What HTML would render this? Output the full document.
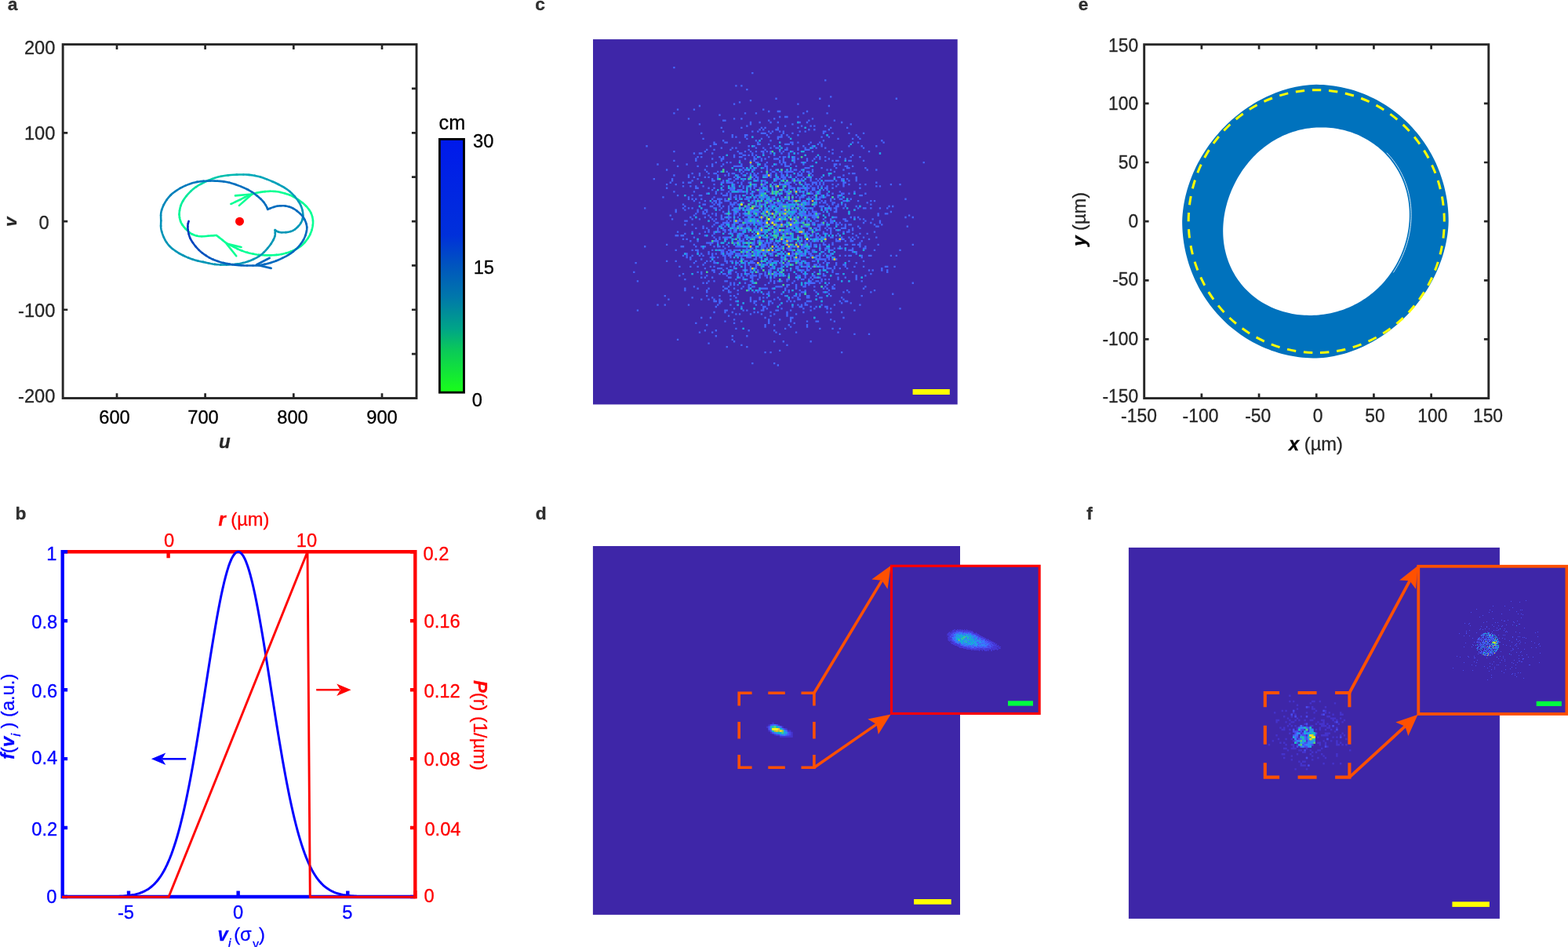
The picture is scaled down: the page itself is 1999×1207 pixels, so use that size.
<!DOCTYPE html>
<html lang="en"><head><meta charset="utf-8"><title>Figure</title>
<style>
html,body{margin:0;padding:0;background:#fff;}
body{width:1999px;height:1207px;overflow:hidden;}
svg{display:block;font-family:"Liberation Sans",Arial,Helvetica,sans-serif;font-size:23.7px;color:#262626;}
text,tspan{fill:currentColor;stroke:currentColor;stroke-width:.3px;}
</style></head><body>
<svg width="1999" height="1207" viewBox="0 0 1999 1207">
<defs>
<linearGradient id="cbar" x1="0" y1="0" x2="0" y2="1">
<stop offset="0" stop-color="#0019eb"/><stop offset="0.38" stop-color="#0030da"/><stop offset="0.5" stop-color="#0055be"/><stop offset="0.625" stop-color="#0078aa"/><stop offset="0.75" stop-color="#00a587"/><stop offset="0.83" stop-color="#0ac85a"/><stop offset="1" stop-color="#19ff19"/>
</linearGradient>
</defs>
<g id="panel-a">
<text x="9.8" y="13.1" font-weight="bold" font-size="22.8" color="#2e2e2e" stroke-width="0">a</text>
<rect x="80.15" y="56.6" width="450.85" height="450.9" fill="none" stroke="#262626" stroke-width="2.9"/>
<path d="M149 507.5v-6.3M149 56.6v6.3M261.6 507.5v-6.3M261.6 56.6v6.3M374.3 507.5v-6.3M374.3 56.6v6.3M487 507.5v-6.3M487 56.6v6.3M80.15 169.32h6.1M80.15 282.05h6.1M80.15 394.77h6.1M531 112.96h-6.1M531 169.32h-6.1M531 225.69h-6.1M531 282.05h-6.1M531 338.41h-6.1M531 394.77h-6.1M531 451.14h-6.1" stroke="#262626" stroke-width="2.7" fill="none"/>
<text x="0" y="0" text-anchor="end" transform="translate(70.4,68.8) scale(1,1.04)">200</text>
<text x="0" y="0" text-anchor="end" transform="translate(70.4,178.4) scale(1,1.04)">100</text>
<text x="0" y="0" text-anchor="end" transform="translate(62.7,291.8) scale(1,1.04)">0</text>
<text x="0" y="0" text-anchor="end" transform="translate(70.4,403.6) scale(1,1.04)">-100</text>
<text x="0" y="0" text-anchor="end" transform="translate(70.4,513) scale(1,1.04)">-200</text>
<text x="0" y="0" text-anchor="middle" color="#000" transform="translate(146,540) scale(1,1.04)">600</text>
<text x="0" y="0" text-anchor="middle" color="#000" transform="translate(259,540) scale(1,1.04)">700</text>
<text x="0" y="0" text-anchor="middle" color="#000" transform="translate(373,540) scale(1,1.04)">800</text>
<text x="0" y="0" text-anchor="middle" color="#000" transform="translate(487,540) scale(1,1.04)">900</text>
<text x="286.4" y="571" text-anchor="middle" font-weight="bold" font-style="italic" font-size="24">u</text>
<text transform="translate(21,282.6) rotate(-90)" text-anchor="middle" font-weight="bold" font-style="italic" font-size="22.6">v</text>
<rect x="560.4" y="177.4" width="31.1" height="322.8" fill="url(#cbar)" stroke="#000" stroke-width="2.8"/>
<text x="559.6" y="165" font-size="25.2" color="#000">cm</text>
<text x="0" y="0" color="#000" transform="translate(603,188.2) scale(1,1.04)">30</text>
<text x="0" y="0" color="#000" transform="translate(603.7,349.2) scale(1,1.04)">15</text>
<text x="0" y="0" color="#000" transform="translate(601.7,518.1) scale(1,1.04)">0</text>
<g fill="none" stroke-width="2.6" stroke-linecap="round" stroke-linejoin="round">
<path stroke="#0cff94" d="M294.38 260L295.85 259.31L297.95 258.33L300.38 257.19"/>
<path stroke="#0cff94" d="M300.38 257.19L302.82 256.04L305 255L306.89 254.06"/>
<path stroke="#0cff94" d="M306.89 254.06L308.69 253.15L310.43 252.25L312.11 251.41"/>
<path stroke="#0bff94" d="M312.11 251.41L313.75 250.62L315.31 249.91L316.78 249.24"/>
<path stroke="#0bff94" d="M316.78 249.24L318.22 248.63L319.69 248.05L321.25 247.5"/>
<path stroke="#0bff94" d="M321.25 247.5L322.9 246.98L324.6 246.49L326.35 246.04"/>
<path stroke="#0bff94" d="M326.35 246.04L328.15 245.62L330 245.25L331.9 244.92"/>
<path stroke="#0bff94" d="M331.9 244.92L333.85 244.62L335.85 244.36L337.9 244.15"/>
<path stroke="#0aff94" d="M337.9 244.15L340 244L342.19 243.89L344.47 243.81"/>
<path stroke="#0aff94" d="M344.47 243.81L346.78 243.8L349.06 243.85L351.25 244"/>
<path stroke="#0aff94" d="M351.25 244L353.33 244.25L355.34 244.59L357.31 245"/>
<path stroke="#0aff95" d="M357.31 245L359.27 245.48L361.25 246L363.27 246.56"/>
<path stroke="#0aff95" d="M363.27 246.56L365.31 247.17L367.34 247.84L369.33 248.57"/>
<path stroke="#0aff95" d="M369.33 248.57L371.25 249.38L373.08 250.24L374.84 251.17"/>
<path stroke="#09ff95" d="M374.84 251.17L376.56 252.16L378.27 253.23L380 254.38"/>
<path stroke="#09ff95" d="M380 254.38L381.79 255.62L383.62 256.96L385.43 258.37"/>
<path stroke="#09ff95" d="M385.43 258.37L387.16 259.81L388.75 261.25L390.21 262.71"/>
<path stroke="#09ff95" d="M390.21 262.71L391.58 264.21L392.85 265.72L393.99 267.24"/>
<path stroke="#09ff95" d="M393.99 267.24L395 268.75L395.86 270.23L396.58 271.69"/>
<path stroke="#09ff95" d="M396.58 271.69L397.19 273.16L397.69 274.67L398.12 276.25"/>
<path stroke="#08ff95" d="M398.12 276.25L398.49 277.9L398.78 279.6L398.97 281.35"/>
<path stroke="#08ff95" d="M398.97 281.35L399.05 283.15L399 285L398.8 286.94"/>
<path stroke="#08ff95" d="M398.8 286.94L398.47 288.97L398.03 291.03L397.49 293.06"/>
<path stroke="#08ff95" d="M397.49 293.06L396.88 295L396.19 296.83L395.44 298.59"/>
<path stroke="#08ff95" d="M395.44 298.59L394.58 300.31L393.61 302.02L392.5 303.75"/>
<path stroke="#07ff95" d="M392.5 303.75L391.24 305.54L389.84 307.37L388.33 309.18"/>
<path stroke="#07ff95" d="M388.33 309.18L386.71 310.91L385 312.5L383.16 313.95"/>
<path stroke="#07ff95" d="M383.16 313.95L381.18 315.3L379.12 316.55L377.04 317.7"/>
<path stroke="#07ff95" d="M377.04 317.7L375 318.75L373 319.69L371 320.51"/>
<path stroke="#07ff95" d="M371 320.51L369 321.24L367 321.89L365 322.5"/>
<path stroke="#07ff95" d="M365 322.5L363.04 323.05L361.12 323.53L359.18 323.95"/>
<path stroke="#06ff95" d="M359.18 323.95L357.16 324.31L355 324.62L352.66 324.89"/>
<path stroke="#06ff95" d="M352.66 324.89L350.18 325.09L347.62 325.24L345.04 325.33"/>
<path stroke="#06ff95" d="M345.04 325.33L342.5 325.38L340 325.36L337.5 325.3"/>
<path stroke="#06ff96" d="M337.5 325.3L335 325.18L332.5 325L330 324.75"/>
<path stroke="#06ff96" d="M330 324.75L327.48 324.43L324.94 324.04L322.41 323.59"/>
<path stroke="#06ff96" d="M322.41 323.59L319.92 323.07L317.5 322.5L315.13 321.86"/>
<path stroke="#05ff96" d="M315.13 321.86L312.79 321.14L310.51 320.37L308.32 319.56"/>
<path stroke="#05ff96" d="M308.32 319.56L306.25 318.75L304.34 317.92L302.57 317.04"/>
<path stroke="#05ff96" d="M302.57 317.04L300.88 316.15L299.21 315.26L297.5 314.38"/>
<path stroke="#05ff96" d="M297.5 314.38L295.71 313.51L293.88 312.66L292.07 311.8"/>
<path stroke="#05ff96" d="M292.07 311.8L290.34 310.91L288.75 310L287.34 309.04"/>
<path stroke="#04ff96" d="M287.34 309.04L286.08 308.04L284.9 307.03L283.73 306.01"/>
<path stroke="#04ff96" d="M283.73 306.01L282.5 305L281.11 303.92L279.61 302.76"/>
<path stroke="#04ff96" d="M279.61 302.76L278.14 301.64L276.89 300.68L276 300"/>
<path stroke="#04ff96" d="M276 300L274.91 300.06L273.4 300.15L271.6 300.26"/>
<path stroke="#03fe96" d="M271.6 300.26L269.59 300.38L267.5 300.5L265.22 300.69"/>
<path stroke="#03fe96" d="M265.22 300.69L262.67 300.95L260.01 301.19L257.4 301.32"/>
<path stroke="#03fd96" d="M257.4 301.32L255 301.25L252.8 300.98L250.7 300.56"/>
<path stroke="#02fd96" d="M250.7 300.56L248.7 300L246.8 299.31L245 298.5"/>
<path stroke="#02fc96" d="M245 298.5L243.32 297.53L241.75 296.41L240.27 295.16"/>
<path stroke="#01fc96" d="M240.27 295.16L238.86 293.85L237.5 292.5L236.15 291.1"/>
<path stroke="#01fb96" d="M236.15 291.1L234.82 289.61L233.58 288.07L232.45 286.52"/>
<path stroke="#01fb96" d="M232.45 286.52L231.5 285L230.74 283.5L230.14 282"/>
<path stroke="#00fa96" d="M230.14 282L229.67 280.5L229.3 279L229 277.5"/>
<path stroke="#00f896" d="M229 277.5L228.76 276.04L228.61 274.62L228.54 273.18"/>
<path stroke="#00f698" d="M228.54 273.18L228.59 271.66L228.75 270L229.01 268.16"/>
<path stroke="#00f298" d="M229.01 268.16L229.37 266.18L229.85 264.12L230.47 262.04"/>
<path stroke="#00f09a" d="M230.47 262.04L231.25 260L232.2 258L233.3 256"/>
<path stroke="#00ec9a" d="M233.3 256L234.55 254L235.95 252L237.5 250"/>
<path stroke="#00e89c" d="M237.5 250L239.22 247.96L241.11 245.88L243.14 243.82"/>
<path stroke="#00e2a0" d="M243.14 243.82L245.28 241.84L247.5 240L249.82 238.31"/>
<path stroke="#00dca2" d="M249.82 238.31L252.26 236.73L254.79 235.25L257.38 233.84"/>
<path stroke="#00d6a6" d="M257.38 233.84L260 232.5L262.67 231.22L265.41 230"/>
<path stroke="#00cea8" d="M265.41 230L268.19 228.85L270.98 227.81L273.75 226.88"/>
<path stroke="#00c7ac" d="M273.75 226.88L276.44 226.06L279.07 225.35L281.73 224.75"/>
<path stroke="#00bfae" d="M281.73 224.75L284.51 224.22L287.5 223.75L290.84 223.35"/>
<path stroke="#00b9b2" d="M290.84 223.35L294.47 223.04L298.18 222.79L301.76 222.62"/>
<path stroke="#00b3b4" d="M301.76 222.62L305 222.5L307.82 222.44L310.36 222.45"/>
<path stroke="#00adb8" d="M310.36 222.45L312.74 222.52L315.08 222.66L317.5 222.88"/>
<path stroke="#00a9b9" d="M317.5 222.88L320 223.15L322.5 223.49L325 223.9"/>
<path stroke="#00a7b9" d="M325 223.9L327.5 224.4L330 225L332.5 225.71"/>
<path stroke="#00a5b9" d="M332.5 225.71L335 226.53L337.5 227.43L340 228.38"/>
<path stroke="#00a3b9" d="M340 228.38L342.5 229.38L345 230.39L347.5 231.45"/>
<path stroke="#00a1b9" d="M347.5 231.45L350 232.56L352.5 233.73L355 235"/>
<path stroke="#009fb9" d="M355 235L357.54 236.34L360.12 237.75L362.68 239.23"/>
<path stroke="#009eb9" d="M362.68 239.23L365.16 240.81L367.5 242.5L369.72 244.34"/>
<path stroke="#009cb9" d="M369.72 244.34L371.86 246.32L373.89 248.38L375.78 250.46"/>
<path stroke="#009ab9" d="M375.78 250.46L377.5 252.5L379.05 254.5L380.45 256.5"/>
<path stroke="#0099b9" d="M380.45 256.5L381.7 258.5L382.8 260.5L383.75 262.5"/>
<path stroke="#0098b9" d="M383.75 262.5L384.55 264.52L385.2 266.56L385.7 268.59"/>
<path stroke="#0098b9" d="M385.7 268.59L386.05 270.58L386.25 272.5L386.3 274.35"/>
<path stroke="#0098b8" d="M386.3 274.35L386.2 276.15L385.95 277.9L385.55 279.6"/>
<path stroke="#0097b8" d="M385.55 279.6L385 281.25L384.28 282.86L383.39 284.43"/>
<path stroke="#0097b8" d="M383.39 284.43L382.36 285.94L381.22 287.39L380 288.75"/>
<path stroke="#0097b8" d="M380 288.75L378.7 290.06L377.3 291.31L375.8 292.49"/>
<path stroke="#0097b7" d="M375.8 292.49L374.2 293.52L372.5 294.38L370.62 295.03"/>
<path stroke="#0097b7" d="M370.62 295.03L368.56 295.52L366.44 295.86L364.38 296.09"/>
<path stroke="#0097b7" d="M364.38 296.09L362.5 296.25L360.79 296.31L359.17 296.27"/>
<path stroke="#0096b7" d="M359.17 296.27L357.65 296.13L356.26 295.91L355 295.62"/>
<path stroke="#0096b6" d="M355 295.62L353.86 295.2L352.81 294.64L351.91 294.04"/>
<path stroke="#0096b6" d="M351.91 294.04L351.17 293.5L350.62 293.12"/>
<path stroke="#0096b6" d="M350.62 293.12L350.68 294.05L350.77 295.35L350.85 296.88"/>
<path stroke="#0096b6" d="M350.85 296.88L350.82 298.47L350.62 300L350.25 301.44"/>
<path stroke="#0096b6" d="M350.25 301.44L349.75 302.89L349.12 304.38L348.38 305.91"/>
<path stroke="#0096b6" d="M348.38 305.91L347.5 307.5L346.49 309.17L345.34 310.91"/>
<path stroke="#0096b6" d="M345.34 310.91L344.08 312.69L342.71 314.48L341.25 316.25"/>
<path stroke="#0096b6" d="M341.25 316.25L339.7 318.04L338.05 319.87L336.3 321.68"/>
<path stroke="#0096b6" d="M336.3 321.68L334.45 323.41L332.5 325L330.41 326.45"/>
<path stroke="#0096b6" d="M330.41 326.45L328.18 327.8L325.87 329.05L323.54 330.2"/>
<path stroke="#0096b6" d="M323.54 330.2L321.25 331.25L319 332.19L316.75 333.02"/>
<path stroke="#0096b6" d="M316.75 333.02L314.5 333.75L312.25 334.41L310 335"/>
<path stroke="#0096b6" d="M310 335L307.77 335.51L305.56 335.94L303.34 336.31"/>
<path stroke="#0096b6" d="M303.34 336.31L301.08 336.61L298.75 336.88L296.33 337.1"/>
<path stroke="#0096b6" d="M296.33 337.1L293.84 337.27L291.31 337.4L288.77 337.48"/>
<path stroke="#0096b6" d="M288.77 337.48L286.25 337.5L283.75 337.49L281.25 337.43"/>
<path stroke="#0096b6" d="M281.25 337.43L278.75 337.32L276.25 337.14L273.75 336.88"/>
<path stroke="#0096b6" d="M273.75 336.88L271.23 336.5L268.69 336.01L266.16 335.46"/>
<path stroke="#0096b6" d="M266.16 335.46L263.67 334.91L261.25 334.38L258.9 333.89"/>
<path stroke="#0096b6" d="M258.9 333.89L256.6 333.42L254.35 332.94L252.15 332.43"/>
<path stroke="#0096b6" d="M252.15 332.43L250 331.88L247.92 331.28L245.91 330.65"/>
<path stroke="#0096b6" d="M245.91 330.65L243.94 329.99L241.98 329.28L240 328.5"/>
<path stroke="#0096b6" d="M240 328.5L237.96 327.64L235.88 326.7L233.82 325.72"/>
<path stroke="#0096b6" d="M233.82 325.72L231.84 324.72L230 323.75L228.32 322.81"/>
<path stroke="#0096b6" d="M228.32 322.81L226.77 321.89L225.31 320.95L223.9 320"/>
<path stroke="#0096b6" d="M223.9 320L222.5 319L221.13 318L219.8 317"/>
<path stroke="#0096b6" d="M219.8 317L218.52 315.95L217.25 314.8L216 313.5"/>
<path stroke="#0096b6" d="M216 313.5L214.74 312.06L213.49 310.51L212.27 308.83"/>
<path stroke="#0096b6" d="M212.27 308.83L211.1 307L210 305L208.94 302.74"/>
<path stroke="#0094b6" d="M208.94 302.74L207.89 300.23L206.92 297.6L206.1 294.98"/>
<path stroke="#0092b7" d="M206.1 294.98L205.5 292.5L205.17 290.17L205.07 287.91"/>
<path stroke="#0090b8" d="M205.07 287.91L205.11 285.69L205.2 283.48L205.25 281.25"/>
<path stroke="#008eb8" d="M205.25 281.25L205.2 279L205.11 276.75L205.07 274.5"/>
<path stroke="#008cb9" d="M205.07 274.5L205.17 272.25L205.5 270L206.08 267.73"/>
<path stroke="#008aba" d="M206.08 267.73L206.85 265.44L207.78 263.16L208.84 260.92"/>
<path stroke="#0086ba" d="M208.84 260.92L210 258.75L211.27 256.63L212.66 254.54"/>
<path stroke="#0084bb" d="M212.66 254.54L214.18 252.51L215.79 250.57L217.5 248.75"/>
<path stroke="#0080bb" d="M217.5 248.75L219.32 247.06L221.26 245.48L223.29 244"/>
<path stroke="#007ebc" d="M223.29 244L225.38 242.59L227.5 241.25L229.65 239.97"/>
<path stroke="#007bbc" d="M229.65 239.97L231.85 238.78L234.1 237.65L236.4 236.6"/>
<path stroke="#0079bd" d="M236.4 236.6L238.75 235.62L241.15 234.72L243.6 233.87"/>
<path stroke="#0077bd" d="M243.6 233.87L246.1 233.1L248.65 232.44L251.25 231.88"/>
<path stroke="#0075be" d="M251.25 231.88L253.9 231.44L256.6 231.12L259.35 230.9"/>
<path stroke="#0073be" d="M259.35 230.9L262.15 230.74L265 230.62L267.96 230.55"/>
<path stroke="#0072be" d="M267.96 230.55L271.03 230.54L274.12 230.59L277.14 230.7"/>
<path stroke="#0071be" d="M277.14 230.7L280 230.88L282.66 231.11L285.18 231.4"/>
<path stroke="#0070be" d="M285.18 231.4L287.62 231.76L290.04 232.2L292.5 232.75"/>
<path stroke="#006fbe" d="M292.5 232.75L295 233.41L297.5 234.17L300 235.01"/>
<path stroke="#006ebe" d="M300 235.01L302.5 235.92L305 236.88L307.54 237.88"/>
<path stroke="#006ebe" d="M307.54 237.88L310.12 238.96L312.68 240.09L315.16 241.27"/>
<path stroke="#006ebe" d="M315.16 241.27L317.5 242.5L319.7 243.8L321.8 245.16"/>
<path stroke="#006dbe" d="M321.8 245.16L323.8 246.56L325.7 247.98L327.5 249.38"/>
<path stroke="#006dbe" d="M327.5 249.38L329.21 250.76L330.83 252.16L332.35 253.55"/>
<path stroke="#006dbe" d="M332.35 253.55L333.74 254.91L335 256.25L336.12 257.57"/>
<path stroke="#006dbe" d="M336.12 257.57L337.09 258.88L337.95 260.17L338.71 261.38"/>
<path stroke="#006dbe" d="M338.71 261.38L339.38 262.5L339.94 263.56L340.39 264.6"/>
<path stroke="#006cbe" d="M340.39 264.6L340.75 265.53L341.04 266.31L341.25 266.88"/>
<path stroke="#006cbe" d="M341.25 266.88L342.08 266.52L343.24 266.03L344.61 265.45"/>
<path stroke="#006cbe" d="M344.61 265.45L346.07 264.88L347.5 264.38L348.9 263.93"/>
<path stroke="#006cbe" d="M348.9 263.93L350.35 263.49L351.85 263.08L353.4 262.75"/>
<path stroke="#006bbe" d="M353.4 262.75L355 262.5L356.67 262.34L358.41 262.25"/>
<path stroke="#006bbe" d="M358.41 262.25L360.19 262.23L361.98 262.31L363.75 262.5"/>
<path stroke="#006bbe" d="M363.75 262.5L365.52 262.8L367.31 263.2L369.09 263.7"/>
<path stroke="#006bbe" d="M369.09 263.7L370.83 264.3L372.5 265L374.1 265.82"/>
<path stroke="#006bbe" d="M374.1 265.82L375.65 266.76L377.15 267.79L378.6 268.88"/>
<path stroke="#006bbe" d="M378.6 268.88L380 270L381.37 271.15L382.71 272.35"/>
<path stroke="#006abe" d="M382.71 272.35L383.99 273.6L385.18 274.9L386.25 276.25"/>
<path stroke="#006abe" d="M386.25 276.25L387.2 277.67L388.05 279.16L388.8 280.69"/>
<path stroke="#006abe" d="M388.8 280.69L389.45 282.23L390 283.75L390.46 285.23"/>
<path stroke="#006abe" d="M390.46 285.23L390.83 286.69L391.1 288.16L391.24 289.67"/>
<path stroke="#006abe" d="M391.24 289.67L391.25 291.25L391.12 292.92L390.84 294.66"/>
<path stroke="#006abe" d="M390.84 294.66L390.45 296.44L389.96 298.23L389.38 300"/>
<path stroke="#006abe" d="M389.38 300L388.71 301.75L387.96 303.5L387.1 305.25"/>
<path stroke="#0069be" d="M387.1 305.25L386.11 307L385 308.75L383.74 310.52"/>
<path stroke="#0069be" d="M383.74 310.52L382.34 312.31L380.83 314.09L379.21 315.83"/>
<path stroke="#0069be" d="M379.21 315.83L377.5 317.5L375.7 319.1L373.8 320.65"/>
<path stroke="#0069be" d="M373.8 320.65L371.8 322.15L369.7 323.6L367.5 325"/>
<path stroke="#0069be" d="M367.5 325L365.16 326.36L362.68 327.68L360.12 328.94"/>
<path stroke="#0069be" d="M360.12 328.94L357.54 330.14L355 331.25L352.5 332.27"/>
<path stroke="#0068be" d="M352.5 332.27L350 333.23L347.5 334.1L345 334.9"/>
<path stroke="#0068be" d="M345 334.9L342.5 335.62L340 336.28L337.5 336.86"/>
<path stroke="#0068be" d="M337.5 336.86L335 337.37L332.5 337.79L330 338.12"/>
<path stroke="#0067be" d="M330 338.12L327.5 338.35L325 338.46L322.5 338.51"/>
<path stroke="#0066be" d="M322.5 338.51L320 338.51L317.5 338.5L315 338.49"/>
<path stroke="#0065be" d="M315 338.49L312.5 338.46L310 338.39L307.5 338.28"/>
<path stroke="#0063be" d="M307.5 338.28L305 338.12L302.5 337.92L300 337.67"/>
<path stroke="#0062be" d="M300 337.67L297.5 337.38L295 337.03L292.5 336.62"/>
<path stroke="#0061be" d="M292.5 336.62L289.96 336.15L287.38 335.62L284.82 335.03"/>
<path stroke="#005fbe" d="M284.82 335.03L282.34 334.4L280 333.75L277.8 333.07"/>
<path stroke="#005cbe" d="M277.8 333.07L275.7 332.34L273.7 331.59L271.8 330.8"/>
<path stroke="#005abe" d="M271.8 330.8L270 330L268.34 329.19L266.82 328.36"/>
<path stroke="#0056be" d="M266.82 328.36L265.38 327.5L263.96 326.59L262.5 325.62"/>
<path stroke="#0054be" d="M262.5 325.62L260.99 324.61L259.47 323.56L257.95 322.44"/>
<path stroke="#0050be" d="M257.95 322.44L256.46 321.26L255 320L253.56 318.64"/>
<path stroke="#004cbe" d="M253.56 318.64L252.15 317.19L250.75 315.68L249.41 314.11"/>
<path stroke="#0048be" d="M249.41 314.11L248.12 312.5L246.87 310.83L245.63 309.09"/>
<path stroke="#0043be" d="M245.63 309.09L244.46 307.31L243.41 305.52L242.5 303.75"/>
<path stroke="#003fbe" d="M242.5 303.75L241.77 301.98L241.19 300.19L240.72 298.41"/>
<path stroke="#003abe" d="M240.72 298.41L240.33 296.67L240 295L239.72 293.39"/>
<path stroke="#0036be" d="M239.72 293.39L239.53 291.82L239.4 290.31L239.35 288.86"/>
<path stroke="#0031be" d="M239.35 288.86L239.38 287.5L239.53 286.16L239.8 284.85"/>
<path stroke="#002cbe" d="M239.8 284.85L240.12 283.63L240.42 282.61L240.62 281.88"/>
<path stroke="#0cff94" d="M300 249.38L321.25 247.5L305 261.88"/>
<path stroke="#0cff94" d="M307.5 315L288.75 310.62L301.25 326.25"/>
<path stroke="#0068be" d="M343.75 328.75L326.88 337.5L345.62 341.88"/>
</g>
<circle cx="305.5" cy="282.2" r="5.5" fill="#f00"/>
</g>
<g id="panel-b">
<text x="19.6" y="661.6" font-weight="bold" font-size="22.8" color="#2e2e2e" stroke-width="0">b</text>
<path d="M79.7 703.3H529.3V1145.2" fill="none" stroke="#ff0000" stroke-width="4.4" stroke-linejoin="miter"/>
<path d="M214.6 703.3v8M529.3 1143h-6.4M529.3 1055.06h-6.4M529.3 967.12h-6.4M529.3 879.18h-6.4M529.3 791.24h-6.4M529.3 703.3h-6.4" fill="none" stroke="#ff0000" stroke-width="4.4"/>
<path d="M79.7 701.1V1143H527.1" fill="none" stroke="#0000ff" stroke-width="4.4" stroke-linejoin="miter"/>
<path d="M164 1143v-7.4M303.65 1143v-7.4M443.3 1143v-7.4M79.7 1143h6.4M79.7 1055.06h6.4M79.7 967.12h6.4M79.7 879.18h6.4M79.7 791.24h6.4M79.7 703.3h6.4" fill="none" stroke="#0000ff" stroke-width="4.4"/>
<path d="M80.21 1143L82.08 1143L83.95 1143L85.81 1143L87.68 1143L89.55 1143L91.42 1143L93.28 1143L95.15 1143L97.02 1143L98.89 1143L100.76 1143L102.62 1143L104.49 1143L106.36 1142.99L108.23 1142.99L110.1 1142.99L111.96 1142.99L113.83 1142.99L115.7 1142.98L117.57 1142.98L119.43 1142.98L121.3 1142.97L123.17 1142.96L125.04 1142.96L126.91 1142.95L128.77 1142.94L130.64 1142.92L132.51 1142.91L134.38 1142.89L136.24 1142.87L138.11 1142.84L139.98 1142.81L141.85 1142.77L143.72 1142.73L145.58 1142.68L147.45 1142.62L149.32 1142.55L151.19 1142.46L153.05 1142.37L154.92 1142.26L156.79 1142.13L158.66 1141.98L160.53 1141.81L162.39 1141.62L164.26 1141.39L166.13 1141.13L168 1140.83L169.87 1140.49L171.73 1140.11L173.6 1139.67L175.47 1139.17L177.34 1138.61L179.2 1137.97L181.07 1137.26L182.94 1136.45L184.81 1135.55L186.68 1134.54L188.54 1133.41L190.41 1132.15L192.28 1130.75L194.15 1129.21L196.01 1127.49L197.88 1125.6L199.75 1123.52L201.62 1121.23L203.49 1118.72L205.35 1115.98L207.22 1112.99L209.09 1109.73L210.96 1106.2L212.83 1102.37L214.69 1098.23L216.56 1093.78L218.43 1088.98L220.3 1083.84L222.16 1078.34L224.03 1072.47L225.9 1066.23L227.77 1059.6L229.64 1052.58L231.5 1045.16L233.37 1037.35L235.24 1029.14L237.11 1020.55L238.97 1011.57L240.84 1002.22L242.71 992.5L244.58 982.44L246.45 972.05L248.31 961.36L250.18 950.38L252.05 939.15L253.92 927.7L255.78 916.07L257.65 904.29L259.52 892.4L261.39 880.45L263.26 868.48L265.12 856.54L266.99 844.69L268.86 832.97L270.73 821.45L272.6 810.16L274.46 799.17L276.33 788.53L278.2 778.3L280.07 768.53L281.93 759.27L283.8 750.57L285.67 742.48L287.54 735.05L289.41 728.32L291.27 722.32L293.14 717.1L295.01 712.68L296.88 709.09L298.74 706.34L300.61 704.47L302.48 703.47L304.35 703.36L306.22 704.14L308.08 705.79L309.95 708.31L311.82 711.69L313.69 715.91L315.56 720.93L317.42 726.73L319.29 733.28L321.16 740.54L323.03 748.47L324.89 757.02L326.76 766.14L328.63 775.79L330.5 785.91L332.37 796.45L334.23 807.35L336.1 818.57L337.97 830.05L339.84 841.72L341.7 853.54L343.57 865.46L345.44 877.43L347.31 889.39L349.18 901.29L351.04 913.11L352.91 924.78L354.78 936.28L356.65 947.57L358.51 958.61L360.38 969.38L362.25 979.85L364.12 990L365.99 999.8L367.85 1009.25L369.72 1018.32L371.59 1027.01L373.46 1035.32L375.33 1043.23L377.19 1050.74L379.06 1057.86L380.93 1064.59L382.8 1070.93L384.66 1076.9L386.53 1082.49L388.4 1087.72L390.27 1092.6L392.14 1097.14L394 1101.36L395.87 1105.26L397.74 1108.87L399.61 1112.19L401.47 1115.25L403.34 1118.05L405.21 1120.62L407.08 1122.96L408.95 1125.09L410.81 1127.03L412.68 1128.79L414.55 1130.38L416.42 1131.81L418.29 1133.1L420.15 1134.26L422.02 1135.3L423.89 1136.23L425.76 1137.06L427.62 1137.8L429.49 1138.45L431.36 1139.04L433.23 1139.55L435.1 1140L436.96 1140.4L438.83 1140.75L440.7 1141.06L442.57 1141.33L444.43 1141.56L446.3 1141.77L448.17 1141.94L450.04 1142.1L451.91 1142.23L453.77 1142.34L455.64 1142.44L457.51 1142.53L459.38 1142.6L461.25 1142.66L463.11 1142.71L464.98 1142.76L466.85 1142.8L468.72 1142.83L470.58 1142.86L472.45 1142.88L474.32 1142.9L476.19 1142.92L478.06 1142.93L479.92 1142.94L481.79 1142.95L483.66 1142.96L485.53 1142.97L487.39 1142.97L489.26 1142.98L491.13 1142.98L493 1142.99L494.87 1142.99L496.73 1142.99L498.6 1142.99L500.47 1142.99L502.34 1143L504.2 1143L506.07 1143L507.94 1143L509.81 1143L511.68 1143L513.54 1143L515.41 1143L517.28 1143L519.15 1143L521.02 1143L522.88 1143L524.75 1143L526.62 1143L528.49 1143" fill="none" stroke="#0000ff" stroke-width="3" stroke-linejoin="round"/>
<path d="M79 1143.2H215L392 703.3L395.3 1143.2H529.3" fill="none" stroke="#ff0000" stroke-width="2.9" stroke-linejoin="miter"/>
<path d="M529.3 1135V1145.2" fill="none" stroke="#ff0000" stroke-width="4.4"/>
<path d="M237.2 967.3H207" stroke="#0000ff" stroke-width="2.5" fill="none"/>
<path d="M192.9 967.3L211.3 959.6L206.6 967.3L211.3 975z" fill="#0000ff"/>
<path d="M403.2 879.2H433" stroke="#ff0000" stroke-width="2.5" fill="none"/>
<path d="M447.6 879.2L429.2 871.5L433.9 879.2L429.2 886.9z" fill="#ff0000"/>
<text x="0" y="0" text-anchor="end" color="#0000ff" transform="translate(72.3,713.8) scale(1,1.04)">1</text>
<text x="0" y="0" text-anchor="end" color="#0000ff" transform="translate(73.2,800.6) scale(1,1.04)">0.8</text>
<text x="0" y="0" text-anchor="end" color="#0000ff" transform="translate(73.2,888.6) scale(1,1.04)">0.6</text>
<text x="0" y="0" text-anchor="end" color="#0000ff" transform="translate(73.2,974.3) scale(1,1.04)">0.4</text>
<text x="0" y="0" text-anchor="end" color="#0000ff" transform="translate(73.2,1064.5) scale(1,1.04)">0.2</text>
<text x="0" y="0" text-anchor="end" color="#0000ff" transform="translate(72.3,1150.8) scale(1,1.04)">0</text>
<text x="0" y="0" color="#ff0000" transform="translate(539.4,713.9) scale(1,1.04)">0.2</text>
<text x="0" y="0" color="#ff0000" transform="translate(540.6,800.2) scale(1,1.04)">0.16</text>
<text x="0" y="0" color="#ff0000" transform="translate(540.6,888.6) scale(1,1.04)">0.12</text>
<text x="0" y="0" color="#ff0000" transform="translate(540.6,975.5) scale(1,1.04)">0.08</text>
<text x="0" y="0" color="#ff0000" transform="translate(541.4,1065.2) scale(1,1.04)">0.04</text>
<text x="0" y="0" color="#ff0000" transform="translate(540.5,1150.2) scale(1,1.04)">0</text>
<text x="0" y="0" text-anchor="middle" color="#0000ff" transform="translate(160.5,1170.6) scale(1,1.04)">-5</text>
<text x="0" y="0" text-anchor="middle" color="#0000ff" transform="translate(303.6,1170.6) scale(1,1.04)">0</text>
<text x="0" y="0" text-anchor="middle" color="#0000ff" transform="translate(442.8,1170.6) scale(1,1.04)">5</text>
<text x="0" y="0" text-anchor="middle" color="#ff0000" transform="translate(215.6,697.4) scale(1,1.04)">0</text>
<text x="0" y="0" text-anchor="middle" color="#ff0000" transform="translate(391,697.3) scale(1,1.04)">10</text>
<text x="278.5" y="669.5" color="#ff0000"><tspan font-weight="bold" font-style="italic">r</tspan> (µm)</text>
<text x="277.6" y="1199" color="#0000ff"><tspan font-weight="bold" font-style="italic">v</tspan><tspan font-style="italic" font-size="17" dy="8.5">i</tspan><tspan dy="-8.5" dx="3.6">(σ</tspan><tspan font-size="15.5" dy="9" dx="1.5">v</tspan><tspan dy="-9">)</tspan></text>
<text transform="translate(18.3,967.8) rotate(-90)" color="#0000ff"><tspan font-weight="bold" font-style="italic">f</tspan>(<tspan font-weight="bold" font-style="italic">v</tspan><tspan font-style="italic" font-size="17" dy="7.5">i</tspan><tspan dy="-7.5"> ) (a.u.)</tspan></text>
<text transform="translate(604.2,867) rotate(90)" color="#ff0000"><tspan font-weight="bold" font-style="italic">P</tspan>(r) (1/µm)</text>
</g>
<g id="panel-c">
<text x="682.3" y="12.8" font-weight="bold" font-size="22.8" color="#2e2e2e" stroke-width="0">c</text>
<rect x="756" y="50.1" width="464.7" height="465.4" fill="#3e26a8"/>
<g transform="translate(756,50.1) scale(2.32350,2.32700)">
<path fill="#4367fd" d="M44 15h1v1h-1zM87 18h1v1h-1zM127 22h1v1h-1zM78 25h1v1h-1zM81 25h1v1h-1zM84 27h1v1h-1zM130 31h1v1h-1zM100 32h1v1h-1zM124 32h1v1h-1zM166 32h1v1h-1zM86 33h1v1h-1zM80 34h1v1h-1zM77 35h1v1h-1zM112 35h1v1h-1zM58 36h1v1h-1zM129 36h1v1h-1zM46 38h1v1h-1zM55 38h1v1h-1zM93 38h1v1h-1zM96 39h1v1h-1zM101 39h2v1h-2zM117 39h1v1h-1zM44 40h1v1h-1zM83 40h1v1h-1zM89 40h1v1h-1zM115 40h1v1h-1zM128 40h1v1h-1zM69 41h1v1h-1zM102 42h1v1h-1zM105 42h2v1h-2zM112 42h1v1h-1zM52 43h1v1h-1zM77 43h1v1h-1zM81 43h1v1h-1zM99 43h1v1h-1zM120 43h1v1h-1zM71 44h2v1h-2zM96 44h1v1h-1zM118 44h1v1h-1zM132 44h1v1h-1zM86 45h1v1h-1zM91 45h1v1h-1zM97 45h1v1h-1zM101 45h1v1h-1zM112 45h2v1h-2zM117 45h1v1h-1zM136 45h1v1h-1zM58 46h1v1h-1zM86 46h1v1h-1zM109 46h1v1h-1zM141 46h1v1h-1zM84 47h1v1h-1zM105 47h1v1h-1zM114 47h1v1h-1zM119 47h1v1h-1zM121 47h1v1h-1zM127 47h1v1h-1zM70 48h1v1h-1zM81 48h1v1h-1zM92 48h1v1h-1zM94 48h1v1h-1zM101 48h1v1h-1zM112 48h1v1h-1zM116 48h1v1h-1zM130 48h1v1h-1zM139 48h1v1h-1zM91 49h1v1h-1zM93 49h1v1h-1zM100 49h2v1h-2zM118 49h1v1h-1zM121 49h1v1h-1zM129 49h1v1h-1zM71 50h1v1h-1zM87 50h1v1h-1zM90 50h1v1h-1zM96 50h1v1h-1zM98 50h1v1h-1zM102 50h1v1h-1zM104 50h1v1h-1zM113 50h1v1h-1zM116 50h1v1h-1zM126 50h2v1h-2zM59 51h1v1h-1zM92 51h3v1h-3zM97 51h1v1h-1zM104 51h1v1h-1zM109 51h1v1h-1zM126 51h1v1h-1zM131 51h1v1h-1zM140 51h1v1h-1zM148 51h1v1h-1zM76 52h1v1h-1zM83 52h2v1h-2zM95 52h1v1h-1zM103 52h1v1h-1zM106 52h1v1h-1zM112 52h1v1h-1zM128 52h1v1h-1zM144 52h1v1h-1zM76 53h1v1h-1zM78 53h1v1h-1zM83 53h1v1h-1zM87 53h1v1h-1zM96 53h1v1h-1zM101 53h3v1h-3zM107 53h1v1h-1zM125 53h1v1h-1zM129 53h1v1h-1zM145 53h1v1h-1zM60 54h1v1h-1zM84 54h1v1h-1zM92 54h1v1h-1zM101 54h1v1h-1zM108 54h1v1h-1zM134 54h1v1h-1zM142 54h1v1h-1zM146 54h1v1h-1zM71 55h1v1h-1zM89 55h1v1h-1zM91 55h1v1h-1zM97 55h1v1h-1zM126 55h1v1h-1zM158 55h1v1h-1zM66 56h1v1h-1zM72 56h2v1h-2zM80 56h1v1h-1zM90 56h1v1h-1zM102 56h1v1h-1zM108 56h2v1h-2zM112 56h1v1h-1zM119 56h1v1h-1zM124 56h1v1h-1zM142 56h1v1h-1zM145 56h1v1h-1zM159 56h1v1h-1zM66 57h2v1h-2zM90 57h2v1h-2zM96 57h1v1h-1zM105 57h3v1h-3zM109 57h1v1h-1zM118 57h1v1h-1zM123 57h1v1h-1zM125 57h1v1h-1zM141 57h1v1h-1zM29 58h1v1h-1zM64 58h1v1h-1zM85 58h1v1h-1zM87 58h2v1h-2zM99 58h1v1h-1zM102 58h1v1h-1zM115 58h1v1h-1zM120 58h2v1h-2zM125 58h1v1h-1zM140 58h1v1h-1zM147 58h1v1h-1zM155 58h1v1h-1zM70 59h1v1h-1zM76 59h1v1h-1zM78 59h1v1h-1zM89 59h1v1h-1zM93 59h1v1h-1zM97 59h1v1h-1zM100 59h2v1h-2zM103 59h1v1h-1zM106 59h1v1h-1zM112 59h1v1h-1zM116 59h1v1h-1zM119 59h2v1h-2zM122 59h1v1h-1zM127 59h1v1h-1zM148 59h1v1h-1zM62 60h1v1h-1zM66 60h1v1h-1zM75 60h1v1h-1zM85 60h1v1h-1zM94 60h1v1h-1zM102 60h1v1h-1zM105 60h2v1h-2zM112 60h1v1h-1zM116 60h3v1h-3zM131 60h1v1h-1zM44 61h1v1h-1zM61 61h1v1h-1zM79 61h1v1h-1zM83 61h1v1h-1zM86 61h1v1h-1zM89 61h1v1h-1zM92 61h2v1h-2zM95 61h1v1h-1zM97 61h2v1h-2zM102 61h1v1h-1zM104 61h1v1h-1zM108 61h2v1h-2zM114 61h2v1h-2zM120 61h1v1h-1zM129 61h1v1h-1zM136 61h1v1h-1zM151 61h1v1h-1zM55 62h1v1h-1zM58 62h2v1h-2zM65 62h1v1h-1zM80 62h2v1h-2zM87 62h1v1h-1zM93 62h1v1h-1zM97 62h1v1h-1zM99 62h1v1h-1zM103 62h1v1h-1zM107 62h1v1h-1zM110 62h1v1h-1zM112 62h1v1h-1zM131 62h1v1h-1zM157 62h1v1h-1zM73 63h1v1h-1zM77 63h1v1h-1zM82 63h2v1h-2zM85 63h1v1h-1zM87 63h1v1h-1zM89 63h1v1h-1zM93 63h1v1h-1zM99 63h1v1h-1zM107 63h1v1h-1zM116 63h1v1h-1zM123 63h1v1h-1zM142 63h1v1h-1zM57 64h1v1h-1zM59 64h1v1h-1zM69 64h1v1h-1zM71 64h1v1h-1zM77 64h1v1h-1zM80 64h2v1h-2zM88 64h1v1h-1zM90 64h2v1h-2zM96 64h1v1h-1zM102 64h1v1h-1zM104 64h2v1h-2zM107 64h1v1h-1zM109 64h2v1h-2zM114 64h1v1h-1zM122 64h1v1h-1zM124 64h1v1h-1zM127 64h1v1h-1zM135 64h1v1h-1zM141 64h1v1h-1zM146 64h1v1h-1zM56 65h1v1h-1zM65 65h1v1h-1zM70 65h2v1h-2zM83 65h1v1h-1zM88 65h2v1h-2zM92 65h1v1h-1zM94 65h1v1h-1zM99 65h3v1h-3zM104 65h1v1h-1zM109 65h2v1h-2zM112 65h1v1h-1zM117 65h1v1h-1zM121 65h1v1h-1zM124 65h1v1h-1zM129 65h1v1h-1zM138 65h1v1h-1zM44 66h1v1h-1zM56 66h1v1h-1zM70 66h1v1h-1zM80 66h1v1h-1zM86 66h1v1h-1zM88 66h1v1h-1zM92 66h1v1h-1zM102 66h1v1h-1zM104 66h1v1h-1zM109 66h2v1h-2zM117 66h1v1h-1zM120 66h1v1h-1zM127 66h1v1h-1zM131 66h1v1h-1zM133 66h2v1h-2zM138 66h1v1h-1zM140 66h2v1h-2zM148 66h1v1h-1zM67 67h1v1h-1zM73 67h1v1h-1zM75 67h1v1h-1zM80 67h1v1h-1zM86 67h1v1h-1zM89 67h2v1h-2zM95 67h1v1h-1zM102 67h1v1h-1zM104 67h2v1h-2zM110 67h1v1h-1zM114 67h3v1h-3zM122 67h1v1h-1zM181 67h1v1h-1zM35 68h1v1h-1zM51 68h1v1h-1zM65 68h1v1h-1zM71 68h1v1h-1zM81 68h1v1h-1zM86 68h1v1h-1zM90 68h2v1h-2zM94 68h1v1h-1zM99 68h2v1h-2zM103 68h1v1h-1zM105 68h1v1h-1zM108 68h1v1h-1zM115 68h1v1h-1zM132 68h2v1h-2zM135 68h1v1h-1zM46 69h1v1h-1zM57 69h1v1h-1zM62 69h1v1h-1zM65 69h1v1h-1zM70 69h1v1h-1zM77 69h5v1h-5zM86 69h2v1h-2zM90 69h1v1h-1zM94 69h2v1h-2zM98 69h1v1h-1zM105 69h3v1h-3zM111 69h1v1h-1zM119 69h2v1h-2zM132 69h1v1h-1zM138 69h2v1h-2zM142 69h1v1h-1zM76 70h1v1h-1zM82 70h1v1h-1zM84 70h1v1h-1zM86 70h1v1h-1zM88 70h2v1h-2zM92 70h2v1h-2zM95 70h1v1h-1zM108 70h1v1h-1zM116 70h3v1h-3zM125 70h1v1h-1zM133 70h1v1h-1zM139 70h2v1h-2zM149 70h1v1h-1zM40 71h1v1h-1zM61 71h1v1h-1zM71 71h1v1h-1zM78 71h1v1h-1zM80 71h2v1h-2zM83 71h3v1h-3zM87 71h2v1h-2zM95 71h1v1h-1zM97 71h1v1h-1zM100 71h2v1h-2zM103 71h1v1h-1zM106 71h1v1h-1zM108 71h1v1h-1zM110 71h2v1h-2zM114 71h2v1h-2zM120 71h1v1h-1zM128 71h1v1h-1zM130 71h1v1h-1zM137 71h1v1h-1zM150 71h1v1h-1zM155 71h1v1h-1zM62 72h1v1h-1zM68 72h1v1h-1zM70 72h2v1h-2zM73 72h1v1h-1zM80 72h1v1h-1zM82 72h1v1h-1zM87 72h1v1h-1zM92 72h1v1h-1zM95 72h1v1h-1zM98 72h2v1h-2zM102 72h2v1h-2zM105 72h5v1h-5zM113 72h1v1h-1zM115 72h1v1h-1zM117 72h2v1h-2zM120 72h1v1h-1zM132 72h1v1h-1zM54 73h1v1h-1zM58 73h1v1h-1zM63 73h1v1h-1zM66 73h2v1h-2zM74 73h1v1h-1zM76 73h2v1h-2zM81 73h1v1h-1zM84 73h1v1h-1zM86 73h1v1h-1zM88 73h1v1h-1zM90 73h1v1h-1zM95 73h1v1h-1zM97 73h1v1h-1zM100 73h1v1h-1zM103 73h1v1h-1zM106 73h1v1h-1zM110 73h1v1h-1zM112 73h1v1h-1zM114 73h1v1h-1zM118 73h2v1h-2zM129 73h2v1h-2zM140 73h1v1h-1zM142 73h2v1h-2zM44 74h1v1h-1zM52 74h1v1h-1zM58 74h1v1h-1zM68 74h1v1h-1zM72 74h1v1h-1zM74 74h1v1h-1zM78 74h2v1h-2zM82 74h2v1h-2zM86 74h1v1h-1zM88 74h2v1h-2zM93 74h5v1h-5zM100 74h1v1h-1zM103 74h2v1h-2zM106 74h1v1h-1zM108 74h1v1h-1zM112 74h3v1h-3zM118 74h1v1h-1zM120 74h1v1h-1zM126 74h1v1h-1zM129 74h1v1h-1zM137 74h1v1h-1zM52 75h1v1h-1zM55 75h1v1h-1zM61 75h1v1h-1zM63 75h1v1h-1zM68 75h1v1h-1zM77 75h1v1h-1zM79 75h2v1h-2zM85 75h3v1h-3zM89 75h2v1h-2zM93 75h3v1h-3zM97 75h1v1h-1zM100 75h2v1h-2zM103 75h3v1h-3zM107 75h2v1h-2zM111 75h1v1h-1zM115 75h1v1h-1zM117 75h3v1h-3zM125 75h1v1h-1zM132 75h1v1h-1zM134 75h2v1h-2zM144 75h1v1h-1zM33 76h1v1h-1zM43 76h1v1h-1zM57 76h1v1h-1zM65 76h1v1h-1zM68 76h2v1h-2zM74 76h2v1h-2zM78 76h2v1h-2zM81 76h3v1h-3zM85 76h2v1h-2zM88 76h1v1h-1zM90 76h1v1h-1zM99 76h4v1h-4zM104 76h2v1h-2zM109 76h2v1h-2zM112 76h1v1h-1zM114 76h1v1h-1zM116 76h1v1h-1zM119 76h1v1h-1zM122 76h1v1h-1zM124 76h1v1h-1zM132 76h1v1h-1zM136 76h2v1h-2zM139 76h1v1h-1zM144 76h1v1h-1zM43 77h1v1h-1zM54 77h1v1h-1zM65 77h2v1h-2zM71 77h1v1h-1zM73 77h2v1h-2zM77 77h1v1h-1zM82 77h1v1h-1zM88 77h3v1h-3zM92 77h3v1h-3zM99 77h2v1h-2zM103 77h2v1h-2zM106 77h1v1h-1zM109 77h7v1h-7zM119 77h1v1h-1zM123 77h1v1h-1zM125 77h1v1h-1zM127 77h5v1h-5zM133 77h1v1h-1zM136 77h2v1h-2zM140 77h1v1h-1zM144 77h1v1h-1zM42 78h1v1h-1zM49 78h1v1h-1zM52 78h2v1h-2zM59 78h1v1h-1zM70 78h2v1h-2zM73 78h4v1h-4zM79 78h1v1h-1zM81 78h1v1h-1zM85 78h2v1h-2zM92 78h1v1h-1zM94 78h2v1h-2zM98 78h1v1h-1zM102 78h1v1h-1zM105 78h4v1h-4zM110 78h1v1h-1zM113 78h1v1h-1zM116 78h1v1h-1zM120 78h3v1h-3zM124 78h1v1h-1zM126 78h1v1h-1zM137 78h2v1h-2zM155 78h1v1h-1zM40 79h1v1h-1zM45 79h1v1h-1zM66 79h1v1h-1zM70 79h1v1h-1zM76 79h2v1h-2zM81 79h1v1h-1zM86 79h4v1h-4zM92 79h3v1h-3zM97 79h1v1h-1zM99 79h2v1h-2zM102 79h6v1h-6zM111 79h1v1h-1zM113 79h2v1h-2zM116 79h3v1h-3zM120 79h1v1h-1zM122 79h1v1h-1zM124 79h1v1h-1zM126 79h1v1h-1zM131 79h1v1h-1zM134 79h1v1h-1zM137 79h1v1h-1zM140 79h1v1h-1zM146 79h1v1h-1zM149 79h1v1h-1zM163 79h1v1h-1zM168 79h1v1h-1zM49 80h1v1h-1zM53 80h1v1h-1zM56 80h1v1h-1zM60 80h1v1h-1zM71 80h1v1h-1zM74 80h1v1h-1zM76 80h2v1h-2zM80 80h1v1h-1zM82 80h1v1h-1zM84 80h3v1h-3zM88 80h2v1h-2zM92 80h2v1h-2zM95 80h1v1h-1zM97 80h2v1h-2zM100 80h2v1h-2zM104 80h2v1h-2zM107 80h2v1h-2zM115 80h1v1h-1zM117 80h1v1h-1zM119 80h1v1h-1zM123 80h1v1h-1zM125 80h1v1h-1zM128 80h1v1h-1zM133 80h1v1h-1zM137 80h1v1h-1zM155 80h1v1h-1zM157 80h1v1h-1zM40 81h1v1h-1zM56 81h2v1h-2zM63 81h1v1h-1zM66 81h1v1h-1zM70 81h1v1h-1zM74 81h4v1h-4zM82 81h1v1h-1zM84 81h1v1h-1zM86 81h1v1h-1zM88 81h1v1h-1zM91 81h1v1h-1zM93 81h3v1h-3zM98 81h1v1h-1zM100 81h1v1h-1zM104 81h1v1h-1zM107 81h4v1h-4zM112 81h7v1h-7zM120 81h2v1h-2zM123 81h1v1h-1zM125 81h1v1h-1zM127 81h2v1h-2zM131 81h1v1h-1zM146 81h1v1h-1zM65 82h1v1h-1zM68 82h1v1h-1zM70 82h2v1h-2zM75 82h3v1h-3zM79 82h3v1h-3zM84 82h1v1h-1zM86 82h1v1h-1zM89 82h7v1h-7zM98 82h1v1h-1zM100 82h1v1h-1zM102 82h4v1h-4zM107 82h1v1h-1zM110 82h1v1h-1zM112 82h2v1h-2zM116 82h2v1h-2zM120 82h2v1h-2zM124 82h1v1h-1zM126 82h1v1h-1zM128 82h1v1h-1zM44 83h1v1h-1zM55 83h1v1h-1zM67 83h1v1h-1zM74 83h1v1h-1zM76 83h9v1h-9zM87 83h2v1h-2zM91 83h3v1h-3zM95 83h2v1h-2zM98 83h4v1h-4zM103 83h1v1h-1zM105 83h4v1h-4zM110 83h2v1h-2zM113 83h3v1h-3zM117 83h1v1h-1zM119 83h1v1h-1zM122 83h3v1h-3zM129 83h1v1h-1zM135 83h1v1h-1zM143 83h1v1h-1zM62 84h2v1h-2zM67 84h1v1h-1zM70 84h1v1h-1zM73 84h1v1h-1zM75 84h1v1h-1zM84 84h1v1h-1zM86 84h2v1h-2zM91 84h4v1h-4zM97 84h7v1h-7zM106 84h3v1h-3zM111 84h1v1h-1zM115 84h1v1h-1zM117 84h4v1h-4zM122 84h3v1h-3zM128 84h1v1h-1zM131 84h1v1h-1zM136 84h2v1h-2zM140 84h1v1h-1zM143 84h1v1h-1zM149 84h1v1h-1zM46 85h1v1h-1zM50 85h1v1h-1zM54 85h1v1h-1zM58 85h2v1h-2zM71 85h3v1h-3zM75 85h1v1h-1zM78 85h1v1h-1zM80 85h1v1h-1zM82 85h2v1h-2zM87 85h1v1h-1zM89 85h7v1h-7zM100 85h1v1h-1zM102 85h1v1h-1zM106 85h2v1h-2zM109 85h1v1h-1zM112 85h1v1h-1zM114 85h3v1h-3zM121 85h2v1h-2zM125 85h2v1h-2zM128 85h2v1h-2zM134 85h3v1h-3zM146 85h2v1h-2zM38 86h1v1h-1zM52 86h1v1h-1zM66 86h1v1h-1zM75 86h1v1h-1zM77 86h2v1h-2zM80 86h1v1h-1zM84 86h3v1h-3zM88 86h2v1h-2zM91 86h6v1h-6zM98 86h2v1h-2zM103 86h1v1h-1zM105 86h3v1h-3zM109 86h1v1h-1zM111 86h1v1h-1zM113 86h3v1h-3zM118 86h1v1h-1zM120 86h1v1h-1zM122 86h1v1h-1zM124 86h4v1h-4zM131 86h1v1h-1zM134 86h1v1h-1zM137 86h1v1h-1zM52 87h1v1h-1zM54 87h1v1h-1zM56 87h1v1h-1zM59 87h1v1h-1zM65 87h1v1h-1zM68 87h3v1h-3zM72 87h1v1h-1zM74 87h2v1h-2zM78 87h1v1h-1zM80 87h2v1h-2zM83 87h3v1h-3zM88 87h1v1h-1zM90 87h1v1h-1zM92 87h2v1h-2zM95 87h5v1h-5zM101 87h1v1h-1zM103 87h5v1h-5zM109 87h1v1h-1zM113 87h1v1h-1zM117 87h3v1h-3zM121 87h4v1h-4zM130 87h1v1h-1zM132 87h1v1h-1zM135 87h2v1h-2zM139 87h1v1h-1zM141 87h1v1h-1zM171 87h1v1h-1zM55 88h1v1h-1zM61 88h1v1h-1zM64 88h1v1h-1zM66 88h2v1h-2zM69 88h1v1h-1zM72 88h3v1h-3zM79 88h1v1h-1zM85 88h1v1h-1zM87 88h6v1h-6zM94 88h5v1h-5zM101 88h2v1h-2zM104 88h1v1h-1zM107 88h7v1h-7zM115 88h2v1h-2zM118 88h1v1h-1zM120 88h1v1h-1zM122 88h1v1h-1zM125 88h1v1h-1zM127 88h1v1h-1zM130 88h1v1h-1zM137 88h4v1h-4zM145 88h1v1h-1zM152 88h1v1h-1zM154 88h1v1h-1zM58 89h1v1h-1zM65 89h1v1h-1zM67 89h1v1h-1zM69 89h2v1h-2zM75 89h1v1h-1zM77 89h2v1h-2zM81 89h2v1h-2zM86 89h2v1h-2zM89 89h1v1h-1zM91 89h1v1h-1zM94 89h4v1h-4zM99 89h5v1h-5zM106 89h1v1h-1zM109 89h1v1h-1zM111 89h1v1h-1zM114 89h5v1h-5zM121 89h2v1h-2zM124 89h1v1h-1zM126 89h2v1h-2zM131 89h2v1h-2zM136 89h1v1h-1zM150 89h1v1h-1zM49 90h1v1h-1zM60 90h2v1h-2zM66 90h1v1h-1zM68 90h2v1h-2zM75 90h3v1h-3zM79 90h3v1h-3zM85 90h2v1h-2zM89 90h1v1h-1zM91 90h4v1h-4zM97 90h3v1h-3zM101 90h18v1h-18zM120 90h3v1h-3zM128 90h1v1h-1zM131 90h1v1h-1zM134 90h1v1h-1zM136 90h1v1h-1zM138 90h1v1h-1zM152 90h1v1h-1zM50 91h1v1h-1zM58 91h1v1h-1zM64 91h2v1h-2zM69 91h1v1h-1zM71 91h1v1h-1zM74 91h1v1h-1zM76 91h1v1h-1zM80 91h1v1h-1zM83 91h3v1h-3zM87 91h6v1h-6zM94 91h1v1h-1zM96 91h5v1h-5zM102 91h9v1h-9zM112 91h4v1h-4zM121 91h1v1h-1zM124 91h3v1h-3zM129 91h1v1h-1zM133 91h2v1h-2zM138 91h1v1h-1zM144 91h1v1h-1zM146 91h1v1h-1zM162 91h1v1h-1zM164 91h1v1h-1zM28 92h1v1h-1zM49 92h1v1h-1zM52 92h1v1h-1zM54 92h1v1h-1zM59 92h1v1h-1zM66 92h2v1h-2zM70 92h1v1h-1zM74 92h1v1h-1zM77 92h6v1h-6zM84 92h4v1h-4zM91 92h2v1h-2zM94 92h2v1h-2zM97 92h2v1h-2zM100 92h10v1h-10zM111 92h2v1h-2zM114 92h7v1h-7zM125 92h1v1h-1zM127 92h4v1h-4zM132 92h2v1h-2zM137 92h1v1h-1zM139 92h1v1h-1zM145 92h1v1h-1zM148 92h2v1h-2zM152 92h1v1h-1zM157 92h1v1h-1zM161 92h1v1h-1zM45 93h1v1h-1zM50 93h1v1h-1zM57 93h1v1h-1zM61 93h2v1h-2zM67 93h1v1h-1zM69 93h1v1h-1zM74 93h1v1h-1zM76 93h5v1h-5zM82 93h9v1h-9zM92 93h1v1h-1zM94 93h4v1h-4zM99 93h4v1h-4zM104 93h2v1h-2zM107 93h1v1h-1zM109 93h3v1h-3zM113 93h1v1h-1zM115 93h1v1h-1zM117 93h1v1h-1zM120 93h1v1h-1zM125 93h1v1h-1zM127 93h2v1h-2zM130 93h1v1h-1zM133 93h1v1h-1zM143 93h1v1h-1zM45 94h1v1h-1zM57 94h1v1h-1zM60 94h1v1h-1zM62 94h1v1h-1zM71 94h1v1h-1zM74 94h1v1h-1zM77 94h3v1h-3zM83 94h1v1h-1zM85 94h7v1h-7zM93 94h4v1h-4zM100 94h12v1h-12zM113 94h4v1h-4zM118 94h1v1h-1zM120 94h3v1h-3zM126 94h1v1h-1zM128 94h1v1h-1zM132 94h2v1h-2zM140 94h1v1h-1zM163 94h1v1h-1zM56 95h1v1h-1zM60 95h2v1h-2zM65 95h1v1h-1zM67 95h1v1h-1zM72 95h4v1h-4zM77 95h2v1h-2zM80 95h1v1h-1zM82 95h5v1h-5zM88 95h3v1h-3zM92 95h3v1h-3zM96 95h15v1h-15zM112 95h5v1h-5zM118 95h2v1h-2zM121 95h4v1h-4zM129 95h1v1h-1zM140 95h1v1h-1zM156 95h1v1h-1zM160 95h2v1h-2zM42 96h1v1h-1zM55 96h1v1h-1zM63 96h1v1h-1zM67 96h1v1h-1zM70 96h1v1h-1zM74 96h1v1h-1zM77 96h1v1h-1zM80 96h1v1h-1zM83 96h5v1h-5zM89 96h2v1h-2zM93 96h4v1h-4zM99 96h2v1h-2zM102 96h1v1h-1zM104 96h3v1h-3zM108 96h2v1h-2zM111 96h1v1h-1zM113 96h11v1h-11zM126 96h1v1h-1zM129 96h1v1h-1zM156 96h1v1h-1zM173 96h1v1h-1zM53 97h1v1h-1zM56 97h1v1h-1zM61 97h1v1h-1zM64 97h1v1h-1zM70 97h1v1h-1zM72 97h4v1h-4zM77 97h1v1h-1zM79 97h1v1h-1zM82 97h1v1h-1zM85 97h2v1h-2zM88 97h1v1h-1zM91 97h3v1h-3zM95 97h1v1h-1zM97 97h3v1h-3zM101 97h5v1h-5zM107 97h2v1h-2zM110 97h3v1h-3zM114 97h1v1h-1zM116 97h2v1h-2zM120 97h4v1h-4zM127 97h1v1h-1zM131 97h3v1h-3zM141 97h1v1h-1zM143 97h1v1h-1zM145 97h1v1h-1zM171 97h1v1h-1zM175 97h1v1h-1zM43 98h1v1h-1zM54 98h1v1h-1zM58 98h1v1h-1zM65 98h1v1h-1zM67 98h1v1h-1zM70 98h2v1h-2zM74 98h1v1h-1zM77 98h1v1h-1zM80 98h1v1h-1zM83 98h8v1h-8zM92 98h1v1h-1zM95 98h4v1h-4zM100 98h7v1h-7zM108 98h5v1h-5zM115 98h4v1h-4zM121 98h1v1h-1zM126 98h1v1h-1zM130 98h1v1h-1zM137 98h2v1h-2zM143 98h1v1h-1zM146 98h1v1h-1zM148 98h1v1h-1zM153 98h1v1h-1zM50 99h2v1h-2zM63 99h1v1h-1zM66 99h1v1h-1zM73 99h1v1h-1zM75 99h1v1h-1zM77 99h5v1h-5zM83 99h10v1h-10zM94 99h2v1h-2zM97 99h7v1h-7zM106 99h1v1h-1zM109 99h1v1h-1zM111 99h2v1h-2zM114 99h2v1h-2zM117 99h1v1h-1zM119 99h1v1h-1zM122 99h2v1h-2zM127 99h1v1h-1zM130 99h3v1h-3zM138 99h2v1h-2zM149 99h1v1h-1zM157 99h1v1h-1zM67 100h2v1h-2zM71 100h4v1h-4zM77 100h3v1h-3zM82 100h14v1h-14zM97 100h4v1h-4zM103 100h1v1h-1zM106 100h10v1h-10zM117 100h2v1h-2zM120 100h2v1h-2zM125 100h2v1h-2zM128 100h1v1h-1zM130 100h2v1h-2zM133 100h1v1h-1zM135 100h1v1h-1zM148 100h1v1h-1zM152 100h1v1h-1zM157 100h1v1h-1zM50 101h1v1h-1zM54 101h1v1h-1zM66 101h1v1h-1zM70 101h2v1h-2zM73 101h2v1h-2zM76 101h2v1h-2zM80 101h3v1h-3zM84 101h1v1h-1zM86 101h1v1h-1zM88 101h1v1h-1zM90 101h3v1h-3zM94 101h3v1h-3zM99 101h14v1h-14zM115 101h4v1h-4zM120 101h2v1h-2zM123 101h4v1h-4zM128 101h2v1h-2zM133 101h2v1h-2zM136 101h1v1h-1zM138 101h1v1h-1zM140 101h2v1h-2zM154 101h1v1h-1zM158 101h1v1h-1zM60 102h1v1h-1zM65 102h1v1h-1zM69 102h2v1h-2zM72 102h1v1h-1zM74 102h1v1h-1zM76 102h2v1h-2zM79 102h3v1h-3zM84 102h2v1h-2zM89 102h1v1h-1zM92 102h4v1h-4zM97 102h2v1h-2zM100 102h5v1h-5zM106 102h1v1h-1zM108 102h5v1h-5zM114 102h5v1h-5zM123 102h2v1h-2zM128 102h1v1h-1zM133 102h1v1h-1zM138 102h1v1h-1zM145 102h1v1h-1zM155 102h2v1h-2zM172 102h1v1h-1zM56 103h1v1h-1zM60 103h1v1h-1zM62 103h1v1h-1zM68 103h1v1h-1zM70 103h2v1h-2zM75 103h12v1h-12zM88 103h2v1h-2zM91 103h3v1h-3zM96 103h4v1h-4zM101 103h1v1h-1zM106 103h4v1h-4zM111 103h4v1h-4zM118 103h2v1h-2zM121 103h2v1h-2zM124 103h1v1h-1zM127 103h1v1h-1zM129 103h2v1h-2zM132 103h1v1h-1zM136 103h3v1h-3zM142 103h1v1h-1zM146 103h1v1h-1zM63 104h1v1h-1zM68 104h1v1h-1zM71 104h2v1h-2zM74 104h2v1h-2zM77 104h2v1h-2zM80 104h4v1h-4zM85 104h2v1h-2zM88 104h10v1h-10zM99 104h9v1h-9zM109 104h7v1h-7zM118 104h3v1h-3zM122 104h3v1h-3zM128 104h1v1h-1zM130 104h1v1h-1zM133 104h3v1h-3zM140 104h1v1h-1zM142 104h1v1h-1zM46 105h1v1h-1zM54 105h1v1h-1zM61 105h1v1h-1zM63 105h1v1h-1zM66 105h4v1h-4zM72 105h1v1h-1zM75 105h1v1h-1zM77 105h2v1h-2zM82 105h2v1h-2zM85 105h1v1h-1zM87 105h1v1h-1zM89 105h7v1h-7zM98 105h6v1h-6zM105 105h4v1h-4zM111 105h5v1h-5zM117 105h1v1h-1zM120 105h2v1h-2zM126 105h1v1h-1zM130 105h1v1h-1zM137 105h1v1h-1zM139 105h2v1h-2zM154 105h1v1h-1zM50 106h1v1h-1zM54 106h1v1h-1zM58 106h1v1h-1zM66 106h1v1h-1zM71 106h1v1h-1zM74 106h3v1h-3zM79 106h4v1h-4zM88 106h1v1h-1zM90 106h2v1h-2zM94 106h1v1h-1zM96 106h2v1h-2zM99 106h3v1h-3zM103 106h7v1h-7zM114 106h5v1h-5zM120 106h1v1h-1zM122 106h2v1h-2zM126 106h3v1h-3zM130 106h1v1h-1zM134 106h1v1h-1zM137 106h1v1h-1zM142 106h1v1h-1zM146 106h1v1h-1zM150 106h1v1h-1zM45 107h2v1h-2zM48 107h2v1h-2zM61 107h2v1h-2zM65 107h1v1h-1zM76 107h1v1h-1zM79 107h3v1h-3zM83 107h2v1h-2zM87 107h1v1h-1zM89 107h5v1h-5zM95 107h1v1h-1zM97 107h5v1h-5zM104 107h2v1h-2zM108 107h2v1h-2zM112 107h1v1h-1zM116 107h2v1h-2zM119 107h2v1h-2zM122 107h1v1h-1zM124 107h1v1h-1zM127 107h1v1h-1zM129 107h1v1h-1zM131 107h1v1h-1zM133 107h1v1h-1zM135 107h1v1h-1zM144 107h1v1h-1zM55 108h1v1h-1zM66 108h1v1h-1zM69 108h1v1h-1zM71 108h5v1h-5zM79 108h2v1h-2zM83 108h9v1h-9zM93 108h4v1h-4zM99 108h2v1h-2zM102 108h8v1h-8zM112 108h3v1h-3zM116 108h3v1h-3zM122 108h2v1h-2zM125 108h3v1h-3zM130 108h2v1h-2zM136 108h1v1h-1zM140 108h1v1h-1zM142 108h1v1h-1zM145 108h1v1h-1zM148 108h1v1h-1zM155 108h1v1h-1zM49 109h1v1h-1zM51 109h1v1h-1zM57 109h1v1h-1zM67 109h1v1h-1zM69 109h1v1h-1zM72 109h2v1h-2zM76 109h3v1h-3zM80 109h1v1h-1zM82 109h1v1h-1zM84 109h1v1h-1zM86 109h3v1h-3zM91 109h1v1h-1zM95 109h1v1h-1zM97 109h2v1h-2zM100 109h1v1h-1zM102 109h3v1h-3zM106 109h7v1h-7zM114 109h1v1h-1zM117 109h1v1h-1zM119 109h9v1h-9zM133 109h1v1h-1zM135 109h3v1h-3zM141 109h1v1h-1zM143 109h1v1h-1zM151 109h1v1h-1zM53 110h1v1h-1zM57 110h1v1h-1zM65 110h4v1h-4zM72 110h1v1h-1zM76 110h1v1h-1zM79 110h4v1h-4zM85 110h1v1h-1zM88 110h1v1h-1zM90 110h4v1h-4zM95 110h1v1h-1zM97 110h2v1h-2zM100 110h3v1h-3zM104 110h6v1h-6zM112 110h3v1h-3zM116 110h1v1h-1zM118 110h1v1h-1zM120 110h4v1h-4zM125 110h1v1h-1zM127 110h1v1h-1zM133 110h3v1h-3zM138 110h1v1h-1zM141 110h2v1h-2zM147 110h1v1h-1zM62 111h4v1h-4zM68 111h1v1h-1zM70 111h2v1h-2zM74 111h1v1h-1zM76 111h5v1h-5zM82 111h7v1h-7zM90 111h3v1h-3zM94 111h4v1h-4zM99 111h1v1h-1zM101 111h1v1h-1zM104 111h3v1h-3zM111 111h1v1h-1zM113 111h1v1h-1zM116 111h2v1h-2zM119 111h1v1h-1zM126 111h1v1h-1zM131 111h1v1h-1zM146 111h1v1h-1zM40 112h1v1h-1zM55 112h1v1h-1zM64 112h1v1h-1zM68 112h1v1h-1zM73 112h1v1h-1zM77 112h1v1h-1zM79 112h2v1h-2zM82 112h1v1h-1zM85 112h1v1h-1zM87 112h2v1h-2zM91 112h4v1h-4zM96 112h1v1h-1zM99 112h2v1h-2zM102 112h1v1h-1zM105 112h5v1h-5zM111 112h1v1h-1zM113 112h5v1h-5zM119 112h1v1h-1zM121 112h2v1h-2zM124 112h1v1h-1zM126 112h2v1h-2zM129 112h1v1h-1zM131 112h1v1h-1zM138 112h2v1h-2zM142 112h2v1h-2zM145 112h2v1h-2zM156 112h1v1h-1zM175 112h1v1h-1zM28 113h1v1h-1zM48 113h2v1h-2zM56 113h1v1h-1zM59 113h3v1h-3zM66 113h1v1h-1zM68 113h2v1h-2zM71 113h1v1h-1zM74 113h1v1h-1zM78 113h9v1h-9zM89 113h2v1h-2zM92 113h3v1h-3zM96 113h1v1h-1zM98 113h1v1h-1zM100 113h2v1h-2zM103 113h2v1h-2zM107 113h6v1h-6zM114 113h6v1h-6zM121 113h2v1h-2zM124 113h1v1h-1zM128 113h2v1h-2zM135 113h1v1h-1zM146 113h1v1h-1zM149 113h1v1h-1zM60 114h1v1h-1zM72 114h1v1h-1zM84 114h1v1h-1zM86 114h2v1h-2zM89 114h1v1h-1zM92 114h2v1h-2zM95 114h1v1h-1zM97 114h1v1h-1zM99 114h1v1h-1zM101 114h4v1h-4zM106 114h3v1h-3zM112 114h1v1h-1zM114 114h2v1h-2zM117 114h2v1h-2zM124 114h1v1h-1zM127 114h3v1h-3zM132 114h1v1h-1zM134 114h3v1h-3zM138 114h1v1h-1zM142 114h1v1h-1zM148 114h2v1h-2zM45 115h1v1h-1zM54 115h1v1h-1zM56 115h2v1h-2zM65 115h1v1h-1zM67 115h5v1h-5zM74 115h2v1h-2zM77 115h4v1h-4zM82 115h5v1h-5zM88 115h9v1h-9zM98 115h1v1h-1zM100 115h3v1h-3zM104 115h1v1h-1zM107 115h4v1h-4zM112 115h2v1h-2zM116 115h2v1h-2zM120 115h2v1h-2zM124 115h1v1h-1zM127 115h1v1h-1zM129 115h3v1h-3zM138 115h1v1h-1zM140 115h3v1h-3zM148 115h1v1h-1zM154 115h1v1h-1zM168 115h1v1h-1zM57 116h1v1h-1zM63 116h1v1h-1zM70 116h2v1h-2zM73 116h1v1h-1zM75 116h3v1h-3zM81 116h5v1h-5zM87 116h10v1h-10zM98 116h3v1h-3zM103 116h1v1h-1zM105 116h1v1h-1zM109 116h1v1h-1zM111 116h4v1h-4zM116 116h3v1h-3zM120 116h3v1h-3zM125 116h2v1h-2zM129 116h1v1h-1zM132 116h1v1h-1zM142 116h3v1h-3zM50 117h2v1h-2zM57 117h1v1h-1zM59 117h1v1h-1zM63 117h1v1h-1zM65 117h1v1h-1zM67 117h1v1h-1zM70 117h2v1h-2zM73 117h4v1h-4zM78 117h3v1h-3zM82 117h1v1h-1zM84 117h3v1h-3zM88 117h4v1h-4zM93 117h2v1h-2zM96 117h3v1h-3zM101 117h4v1h-4zM106 117h2v1h-2zM109 117h8v1h-8zM118 117h2v1h-2zM124 117h1v1h-1zM127 117h1v1h-1zM130 117h2v1h-2zM144 117h1v1h-1zM49 118h1v1h-1zM51 118h1v1h-1zM54 118h1v1h-1zM58 118h1v1h-1zM60 118h1v1h-1zM65 118h1v1h-1zM71 118h2v1h-2zM74 118h2v1h-2zM78 118h17v1h-17zM97 118h2v1h-2zM100 118h2v1h-2zM103 118h1v1h-1zM105 118h5v1h-5zM111 118h1v1h-1zM113 118h4v1h-4zM119 118h2v1h-2zM122 118h3v1h-3zM126 118h1v1h-1zM128 118h3v1h-3zM135 118h1v1h-1zM138 118h1v1h-1zM140 118h2v1h-2zM146 118h2v1h-2zM151 118h2v1h-2zM163 118h1v1h-1zM166 118h1v1h-1zM51 119h1v1h-1zM53 119h1v1h-1zM64 119h3v1h-3zM68 119h1v1h-1zM72 119h1v1h-1zM75 119h1v1h-1zM77 119h1v1h-1zM79 119h1v1h-1zM81 119h1v1h-1zM84 119h3v1h-3zM89 119h1v1h-1zM91 119h2v1h-2zM95 119h1v1h-1zM103 119h3v1h-3zM108 119h1v1h-1zM110 119h2v1h-2zM113 119h1v1h-1zM117 119h2v1h-2zM120 119h3v1h-3zM124 119h1v1h-1zM128 119h2v1h-2zM131 119h2v1h-2zM147 119h1v1h-1zM53 120h1v1h-1zM59 120h1v1h-1zM65 120h1v1h-1zM72 120h1v1h-1zM81 120h2v1h-2zM88 120h2v1h-2zM92 120h1v1h-1zM94 120h2v1h-2zM97 120h2v1h-2zM103 120h4v1h-4zM108 120h1v1h-1zM110 120h4v1h-4zM122 120h6v1h-6zM129 120h1v1h-1zM131 120h3v1h-3zM40 121h1v1h-1zM45 121h1v1h-1zM56 121h1v1h-1zM62 121h1v1h-1zM64 121h1v1h-1zM66 121h1v1h-1zM72 121h2v1h-2zM75 121h2v1h-2zM78 121h1v1h-1zM80 121h2v1h-2zM83 121h2v1h-2zM86 121h2v1h-2zM92 121h3v1h-3zM96 121h2v1h-2zM99 121h3v1h-3zM103 121h1v1h-1zM105 121h1v1h-1zM107 121h6v1h-6zM114 121h3v1h-3zM120 121h2v1h-2zM123 121h1v1h-1zM127 121h1v1h-1zM140 121h1v1h-1zM148 121h1v1h-1zM23 122h1v1h-1zM55 122h1v1h-1zM61 122h1v1h-1zM66 122h3v1h-3zM73 122h1v1h-1zM76 122h1v1h-1zM78 122h2v1h-2zM81 122h3v1h-3zM85 122h4v1h-4zM90 122h1v1h-1zM92 122h1v1h-1zM95 122h6v1h-6zM102 122h3v1h-3zM106 122h2v1h-2zM111 122h4v1h-4zM116 122h3v1h-3zM123 122h1v1h-1zM126 122h1v1h-1zM128 122h2v1h-2zM133 122h1v1h-1zM138 122h1v1h-1zM144 122h1v1h-1zM60 123h1v1h-1zM70 123h2v1h-2zM78 123h1v1h-1zM80 123h1v1h-1zM83 123h1v1h-1zM85 123h1v1h-1zM89 123h7v1h-7zM97 123h2v1h-2zM100 123h1v1h-1zM103 123h1v1h-1zM105 123h5v1h-5zM113 123h2v1h-2zM117 123h2v1h-2zM121 123h2v1h-2zM124 123h1v1h-1zM128 123h1v1h-1zM133 123h1v1h-1zM137 123h2v1h-2zM47 124h1v1h-1zM53 124h1v1h-1zM57 124h1v1h-1zM64 124h1v1h-1zM66 124h1v1h-1zM75 124h1v1h-1zM77 124h1v1h-1zM81 124h1v1h-1zM83 124h1v1h-1zM86 124h1v1h-1zM89 124h1v1h-1zM92 124h2v1h-2zM96 124h1v1h-1zM98 124h2v1h-2zM103 124h2v1h-2zM106 124h1v1h-1zM111 124h2v1h-2zM114 124h5v1h-5zM120 124h7v1h-7zM128 124h1v1h-1zM132 124h1v1h-1zM138 124h1v1h-1zM143 124h1v1h-1zM148 124h1v1h-1zM160 124h2v1h-2zM165 124h1v1h-1zM61 125h1v1h-1zM68 125h3v1h-3zM73 125h1v1h-1zM77 125h2v1h-2zM83 125h1v1h-1zM86 125h4v1h-4zM92 125h1v1h-1zM97 125h3v1h-3zM101 125h3v1h-3zM108 125h1v1h-1zM111 125h2v1h-2zM117 125h1v1h-1zM119 125h1v1h-1zM126 125h1v1h-1zM128 125h3v1h-3zM132 125h1v1h-1zM135 125h1v1h-1zM139 125h1v1h-1zM158 125h1v1h-1zM65 126h2v1h-2zM71 126h1v1h-1zM74 126h3v1h-3zM82 126h3v1h-3zM86 126h1v1h-1zM88 126h1v1h-1zM90 126h1v1h-1zM93 126h1v1h-1zM96 126h2v1h-2zM101 126h1v1h-1zM103 126h2v1h-2zM106 126h1v1h-1zM108 126h1v1h-1zM112 126h4v1h-4zM117 126h2v1h-2zM124 126h1v1h-1zM126 126h2v1h-2zM131 126h1v1h-1zM151 126h1v1h-1zM153 126h1v1h-1zM158 126h1v1h-1zM161 126h1v1h-1zM22 127h1v1h-1zM57 127h1v1h-1zM59 127h1v1h-1zM62 127h1v1h-1zM66 127h1v1h-1zM70 127h1v1h-1zM74 127h2v1h-2zM78 127h1v1h-1zM83 127h1v1h-1zM86 127h2v1h-2zM89 127h2v1h-2zM94 127h1v1h-1zM96 127h2v1h-2zM99 127h2v1h-2zM102 127h2v1h-2zM110 127h1v1h-1zM114 127h1v1h-1zM116 127h1v1h-1zM121 127h1v1h-1zM124 127h1v1h-1zM128 127h1v1h-1zM131 127h1v1h-1zM142 127h1v1h-1zM161 127h1v1h-1zM49 128h1v1h-1zM54 128h1v1h-1zM59 128h1v1h-1zM69 128h1v1h-1zM71 128h2v1h-2zM74 128h2v1h-2zM79 128h1v1h-1zM81 128h1v1h-1zM83 128h3v1h-3zM87 128h1v1h-1zM91 128h2v1h-2zM94 128h1v1h-1zM96 128h9v1h-9zM107 128h1v1h-1zM111 128h1v1h-1zM115 128h3v1h-3zM120 128h1v1h-1zM123 128h2v1h-2zM126 128h1v1h-1zM133 128h2v1h-2zM137 128h1v1h-1zM152 128h1v1h-1zM47 129h1v1h-1zM62 129h1v1h-1zM73 129h1v1h-1zM79 129h1v1h-1zM81 129h1v1h-1zM84 129h1v1h-1zM86 129h4v1h-4zM91 129h1v1h-1zM94 129h2v1h-2zM97 129h1v1h-1zM99 129h2v1h-2zM102 129h4v1h-4zM107 129h1v1h-1zM112 129h2v1h-2zM116 129h1v1h-1zM120 129h2v1h-2zM126 129h2v1h-2zM130 129h1v1h-1zM144 129h1v1h-1zM149 129h1v1h-1zM59 130h1v1h-1zM61 130h1v1h-1zM65 130h1v1h-1zM74 130h2v1h-2zM79 130h2v1h-2zM82 130h1v1h-1zM86 130h2v1h-2zM91 130h1v1h-1zM95 130h1v1h-1zM97 130h1v1h-1zM99 130h1v1h-1zM107 130h1v1h-1zM111 130h3v1h-3zM116 130h1v1h-1zM119 130h1v1h-1zM121 130h4v1h-4zM134 130h1v1h-1zM138 130h1v1h-1zM144 130h1v1h-1zM147 130h1v1h-1zM50 131h1v1h-1zM78 131h1v1h-1zM82 131h3v1h-3zM87 131h1v1h-1zM90 131h1v1h-1zM97 131h1v1h-1zM102 131h1v1h-1zM106 131h2v1h-2zM112 131h1v1h-1zM114 131h2v1h-2zM118 131h1v1h-1zM120 131h1v1h-1zM125 131h1v1h-1zM127 131h1v1h-1zM129 131h1v1h-1zM134 131h1v1h-1zM144 131h1v1h-1zM24 132h1v1h-1zM63 132h1v1h-1zM66 132h1v1h-1zM72 132h2v1h-2zM86 132h2v1h-2zM97 132h1v1h-1zM99 132h1v1h-1zM101 132h3v1h-3zM106 132h1v1h-1zM110 132h1v1h-1zM118 132h2v1h-2zM122 132h2v1h-2zM125 132h1v1h-1zM136 132h1v1h-1zM140 132h1v1h-1zM147 132h1v1h-1zM60 133h1v1h-1zM62 133h1v1h-1zM75 133h1v1h-1zM77 133h1v1h-1zM80 133h1v1h-1zM83 133h1v1h-1zM87 133h3v1h-3zM96 133h1v1h-1zM99 133h1v1h-1zM109 133h1v1h-1zM114 133h1v1h-1zM116 133h6v1h-6zM124 133h1v1h-1zM127 133h1v1h-1zM129 133h1v1h-1zM175 133h1v1h-1zM75 134h1v1h-1zM77 134h1v1h-1zM79 134h1v1h-1zM85 134h2v1h-2zM94 134h1v1h-1zM104 134h1v1h-1zM106 134h2v1h-2zM111 134h1v1h-1zM114 134h1v1h-1zM116 134h1v1h-1zM118 134h1v1h-1zM128 134h1v1h-1zM132 134h1v1h-1zM55 135h1v1h-1zM71 135h1v1h-1zM74 135h1v1h-1zM82 135h1v1h-1zM85 135h1v1h-1zM87 135h2v1h-2zM100 135h4v1h-4zM106 135h1v1h-1zM111 135h1v1h-1zM115 135h2v1h-2zM121 135h1v1h-1zM125 135h1v1h-1zM127 135h1v1h-1zM131 135h1v1h-1zM149 135h1v1h-1zM50 136h1v1h-1zM57 136h1v1h-1zM63 136h1v1h-1zM72 136h2v1h-2zM77 136h1v1h-1zM81 136h1v1h-1zM85 136h2v1h-2zM91 136h5v1h-5zM98 136h2v1h-2zM105 136h1v1h-1zM111 136h1v1h-1zM126 136h1v1h-1zM128 136h1v1h-1zM131 136h2v1h-2zM148 136h1v1h-1zM50 137h1v1h-1zM62 137h1v1h-1zM71 137h1v1h-1zM74 137h1v1h-1zM79 137h1v1h-1zM84 137h2v1h-2zM87 137h1v1h-1zM89 137h3v1h-3zM105 137h1v1h-1zM107 137h1v1h-1zM109 137h1v1h-1zM113 137h1v1h-1zM116 137h1v1h-1zM121 137h1v1h-1zM129 137h1v1h-1zM139 137h1v1h-1zM154 137h1v1h-1zM62 138h1v1h-1zM74 138h2v1h-2zM88 138h1v1h-1zM90 138h1v1h-1zM92 138h1v1h-1zM96 138h1v1h-1zM99 138h1v1h-1zM104 138h1v1h-1zM107 138h1v1h-1zM114 138h3v1h-3zM122 138h1v1h-1zM126 138h3v1h-3zM137 138h1v1h-1zM140 138h1v1h-1zM152 138h1v1h-1zM79 139h1v1h-1zM93 139h1v1h-1zM95 139h2v1h-2zM103 139h1v1h-1zM111 139h1v1h-1zM113 139h1v1h-1zM116 139h1v1h-1zM123 139h1v1h-1zM129 139h1v1h-1zM164 139h1v1h-1zM39 140h1v1h-1zM62 140h1v1h-1zM69 140h1v1h-1zM75 140h1v1h-1zM77 140h1v1h-1zM96 140h1v1h-1zM105 140h2v1h-2zM110 140h2v1h-2zM113 140h1v1h-1zM117 140h2v1h-2zM122 140h1v1h-1zM128 140h1v1h-1zM130 140h1v1h-1zM147 140h1v1h-1zM54 141h1v1h-1zM65 141h1v1h-1zM78 141h1v1h-1zM86 141h1v1h-1zM91 141h1v1h-1zM93 141h1v1h-1zM95 141h1v1h-1zM101 141h1v1h-1zM107 141h1v1h-1zM109 141h1v1h-1zM112 141h1v1h-1zM117 141h2v1h-2zM124 141h2v1h-2zM136 141h1v1h-1zM41 142h1v1h-1zM59 142h1v1h-1zM63 142h1v1h-1zM66 142h1v1h-1zM69 142h1v1h-1zM75 142h1v1h-1zM86 142h1v1h-1zM91 142h1v1h-1zM99 142h1v1h-1zM102 142h1v1h-1zM107 142h1v1h-1zM112 142h2v1h-2zM122 142h1v1h-1zM137 142h1v1h-1zM66 143h2v1h-2zM69 143h2v1h-2zM78 143h2v1h-2zM86 143h1v1h-1zM88 143h2v1h-2zM93 143h1v1h-1zM96 143h2v1h-2zM106 143h1v1h-1zM108 143h1v1h-1zM110 143h1v1h-1zM117 143h3v1h-3zM125 143h1v1h-1zM135 143h1v1h-1zM138 143h2v1h-2zM69 144h1v1h-1zM82 144h1v1h-1zM88 144h1v1h-1zM96 144h1v1h-1zM98 144h1v1h-1zM103 144h1v1h-1zM116 144h1v1h-1zM136 144h1v1h-1zM141 144h1v1h-1zM35 145h1v1h-1zM39 145h1v1h-1zM52 145h1v1h-1zM68 145h1v1h-1zM75 145h1v1h-1zM79 145h1v1h-1zM89 145h1v1h-1zM92 145h1v1h-1zM96 145h1v1h-1zM102 145h1v1h-1zM109 145h1v1h-1zM112 145h1v1h-1zM114 145h1v1h-1zM116 145h2v1h-2zM125 145h1v1h-1zM132 145h1v1h-1zM146 145h1v1h-1zM67 146h1v1h-1zM81 146h1v1h-1zM93 146h2v1h-2zM101 146h1v1h-1zM109 146h1v1h-1zM113 146h2v1h-2zM119 146h1v1h-1zM122 146h1v1h-1zM124 146h1v1h-1zM127 146h2v1h-2zM77 147h1v1h-1zM81 147h1v1h-1zM88 147h1v1h-1zM93 147h1v1h-1zM95 147h1v1h-1zM103 147h1v1h-1zM115 147h1v1h-1zM121 147h1v1h-1zM128 147h1v1h-1zM130 147h1v1h-1zM168 147h1v1h-1zM24 148h1v1h-1zM72 148h2v1h-2zM82 148h1v1h-1zM84 148h1v1h-1zM92 148h2v1h-2zM100 148h2v1h-2zM108 148h1v1h-1zM119 148h1v1h-1zM143 148h1v1h-1zM66 149h1v1h-1zM72 149h1v1h-1zM76 149h1v1h-1zM88 149h1v1h-1zM90 149h1v1h-1zM97 149h1v1h-1zM106 149h1v1h-1zM115 149h1v1h-1zM128 149h1v1h-1zM130 149h1v1h-1zM136 149h1v1h-1zM78 150h1v1h-1zM80 150h1v1h-1zM86 150h1v1h-1zM92 150h1v1h-1zM99 150h1v1h-1zM106 150h1v1h-1zM111 150h1v1h-1zM74 151h1v1h-1zM97 151h1v1h-1zM106 151h1v1h-1zM59 152h1v1h-1zM64 152h1v1h-1zM94 152h1v1h-1zM108 152h2v1h-2zM121 152h1v1h-1zM137 152h1v1h-1zM77 153h1v1h-1zM96 153h1v1h-1zM102 153h1v1h-1zM108 153h1v1h-1zM130 153h1v1h-1zM72 154h1v1h-1zM81 154h1v1h-1zM96 154h1v1h-1zM108 154h1v1h-1zM117 154h1v1h-1zM122 154h2v1h-2zM132 154h1v1h-1zM56 155h1v1h-1zM77 155h1v1h-1zM96 155h1v1h-1zM110 155h1v1h-1zM62 156h1v1h-1zM94 156h1v1h-1zM99 156h1v1h-1zM107 156h1v1h-1zM117 156h1v1h-1zM94 157h1v1h-1zM108 157h1v1h-1zM117 157h1v1h-1zM78 158h1v1h-1zM82 158h1v1h-1zM105 158h1v1h-1zM124 158h1v1h-1zM131 158h1v1h-1zM135 158h1v1h-1zM61 159h1v1h-1zM67 159h1v1h-1zM85 159h1v1h-1zM99 159h1v1h-1zM58 160h1v1h-1zM65 160h1v1h-1zM100 160h1v1h-1zM111 160h1v1h-1zM134 160h1v1h-1zM102 161h1v1h-1zM143 161h1v1h-1zM151 161h1v1h-1zM67 162h1v1h-1zM76 162h1v1h-1zM84 162h1v1h-1zM46 164h1v1h-1zM76 164h1v1h-1zM77 165h1v1h-1zM99 165h1v1h-1zM104 165h1v1h-1zM119 165h1v1h-1zM63 166h1v1h-1zM81 167h1v1h-1zM106 167h1v1h-1zM73 168h1v1h-1zM84 168h1v1h-1zM102 170h1v1h-1zM94 171h1v1h-1zM97 171h1v1h-1zM136 171h1v1h-1zM87 177h1v1h-1zM99 177h1v1h-1zM101 178h1v1h-1z"/>
<path fill="#1caadf" d="M112 45h1v1h-1zM116 48h1v1h-1zM128 52h1v1h-1zM87 53h1v1h-1zM108 54h1v1h-1zM91 55h1v1h-1zM102 56h1v1h-1zM141 57h1v1h-1zM87 58h1v1h-1zM102 58h1v1h-1zM121 58h1v1h-1zM103 59h1v1h-1zM119 59h1v1h-1zM102 60h1v1h-1zM98 61h1v1h-1zM108 61h1v1h-1zM114 61h2v1h-2zM99 62h1v1h-1zM110 62h1v1h-1zM157 62h1v1h-1zM73 63h1v1h-1zM93 63h1v1h-1zM116 63h1v1h-1zM123 63h1v1h-1zM90 64h1v1h-1zM107 64h1v1h-1zM109 64h1v1h-1zM114 64h1v1h-1zM109 66h1v1h-1zM138 66h1v1h-1zM80 67h1v1h-1zM86 67h1v1h-1zM115 67h1v1h-1zM122 67h1v1h-1zM90 68h2v1h-2zM99 68h1v1h-1zM87 69h1v1h-1zM120 69h1v1h-1zM76 70h1v1h-1zM84 70h1v1h-1zM86 70h1v1h-1zM88 70h1v1h-1zM92 70h1v1h-1zM108 70h1v1h-1zM71 71h1v1h-1zM78 71h1v1h-1zM80 71h1v1h-1zM85 71h1v1h-1zM101 71h1v1h-1zM103 71h1v1h-1zM106 71h1v1h-1zM115 71h1v1h-1zM70 72h2v1h-2zM87 72h1v1h-1zM95 72h1v1h-1zM95 73h1v1h-1zM110 73h1v1h-1zM129 73h2v1h-2zM78 74h1v1h-1zM83 74h1v1h-1zM86 74h1v1h-1zM96 74h1v1h-1zM100 74h1v1h-1zM106 74h1v1h-1zM118 74h1v1h-1zM126 74h1v1h-1zM79 75h1v1h-1zM86 75h1v1h-1zM93 75h2v1h-2zM101 75h1v1h-1zM108 75h1v1h-1zM119 75h1v1h-1zM68 76h2v1h-2zM81 76h1v1h-1zM83 76h1v1h-1zM85 76h2v1h-2zM99 76h1v1h-1zM110 76h1v1h-1zM116 76h1v1h-1zM132 76h1v1h-1zM73 77h1v1h-1zM88 77h2v1h-2zM92 77h1v1h-1zM99 77h1v1h-1zM103 77h2v1h-2zM106 77h1v1h-1zM110 77h1v1h-1zM115 77h1v1h-1zM125 77h1v1h-1zM137 77h1v1h-1zM59 78h1v1h-1zM86 78h1v1h-1zM95 78h1v1h-1zM105 78h1v1h-1zM113 78h1v1h-1zM70 79h1v1h-1zM76 79h1v1h-1zM86 79h1v1h-1zM88 79h1v1h-1zM92 79h1v1h-1zM97 79h1v1h-1zM102 79h1v1h-1zM114 79h1v1h-1zM74 80h1v1h-1zM76 80h1v1h-1zM80 80h1v1h-1zM85 80h2v1h-2zM97 80h1v1h-1zM100 80h2v1h-2zM104 80h2v1h-2zM115 80h1v1h-1zM70 81h1v1h-1zM74 81h1v1h-1zM77 81h1v1h-1zM84 81h1v1h-1zM93 81h2v1h-2zM98 81h1v1h-1zM104 81h1v1h-1zM112 81h1v1h-1zM116 81h1v1h-1zM125 81h1v1h-1zM68 82h1v1h-1zM84 82h1v1h-1zM90 82h1v1h-1zM95 82h1v1h-1zM98 82h1v1h-1zM102 82h2v1h-2zM107 82h1v1h-1zM110 82h1v1h-1zM124 82h1v1h-1zM76 83h4v1h-4zM82 83h1v1h-1zM84 83h1v1h-1zM87 83h1v1h-1zM98 83h4v1h-4zM106 83h1v1h-1zM108 83h1v1h-1zM111 83h1v1h-1zM113 83h1v1h-1zM115 83h1v1h-1zM123 83h1v1h-1zM129 83h1v1h-1zM63 84h1v1h-1zM92 84h3v1h-3zM98 84h3v1h-3zM102 84h2v1h-2zM107 84h1v1h-1zM111 84h1v1h-1zM117 84h2v1h-2zM123 84h1v1h-1zM143 84h1v1h-1zM50 85h1v1h-1zM82 85h1v1h-1zM87 85h1v1h-1zM92 85h2v1h-2zM95 85h1v1h-1zM100 85h1v1h-1zM115 85h1v1h-1zM122 85h1v1h-1zM126 85h1v1h-1zM135 85h1v1h-1zM84 86h1v1h-1zM86 86h1v1h-1zM88 86h1v1h-1zM91 86h1v1h-1zM93 86h1v1h-1zM96 86h1v1h-1zM105 86h1v1h-1zM107 86h1v1h-1zM109 86h1v1h-1zM122 86h1v1h-1zM126 86h1v1h-1zM131 86h1v1h-1zM137 86h1v1h-1zM74 87h1v1h-1zM78 87h1v1h-1zM81 87h1v1h-1zM92 87h1v1h-1zM95 87h2v1h-2zM99 87h1v1h-1zM101 87h1v1h-1zM107 87h1v1h-1zM117 87h2v1h-2zM122 87h1v1h-1zM139 87h1v1h-1zM64 88h1v1h-1zM85 88h1v1h-1zM89 88h4v1h-4zM94 88h1v1h-1zM97 88h1v1h-1zM101 88h2v1h-2zM104 88h1v1h-1zM110 88h4v1h-4zM120 88h1v1h-1zM139 88h1v1h-1zM81 89h1v1h-1zM87 89h1v1h-1zM89 89h1v1h-1zM95 89h1v1h-1zM99 89h1v1h-1zM106 89h1v1h-1zM111 89h1v1h-1zM115 89h2v1h-2zM121 89h2v1h-2zM136 89h1v1h-1zM80 90h2v1h-2zM85 90h1v1h-1zM89 90h1v1h-1zM91 90h1v1h-1zM94 90h1v1h-1zM103 90h1v1h-1zM107 90h4v1h-4zM112 90h1v1h-1zM114 90h1v1h-1zM116 90h1v1h-1zM120 90h2v1h-2zM58 91h1v1h-1zM80 91h1v1h-1zM83 91h1v1h-1zM87 91h2v1h-2zM92 91h1v1h-1zM94 91h1v1h-1zM96 91h1v1h-1zM98 91h2v1h-2zM102 91h1v1h-1zM104 91h4v1h-4zM110 91h1v1h-1zM115 91h1v1h-1zM146 91h1v1h-1zM59 92h1v1h-1zM78 92h1v1h-1zM80 92h1v1h-1zM82 92h1v1h-1zM86 92h2v1h-2zM91 92h1v1h-1zM95 92h1v1h-1zM98 92h1v1h-1zM100 92h2v1h-2zM105 92h1v1h-1zM107 92h1v1h-1zM109 92h1v1h-1zM111 92h2v1h-2zM116 92h1v1h-1zM119 92h1v1h-1zM127 92h1v1h-1zM129 92h1v1h-1zM139 92h1v1h-1zM67 93h1v1h-1zM77 93h1v1h-1zM82 93h1v1h-1zM84 93h3v1h-3zM89 93h2v1h-2zM94 93h2v1h-2zM99 93h2v1h-2zM105 93h1v1h-1zM107 93h1v1h-1zM113 93h1v1h-1zM115 93h1v1h-1zM125 93h1v1h-1zM143 93h1v1h-1zM74 94h1v1h-1zM78 94h1v1h-1zM85 94h1v1h-1zM88 94h1v1h-1zM93 94h1v1h-1zM95 94h2v1h-2zM100 94h2v1h-2zM103 94h1v1h-1zM106 94h5v1h-5zM114 94h1v1h-1zM116 94h1v1h-1zM128 94h1v1h-1zM140 94h1v1h-1zM73 95h2v1h-2zM83 95h3v1h-3zM88 95h2v1h-2zM92 95h2v1h-2zM96 95h3v1h-3zM100 95h1v1h-1zM102 95h1v1h-1zM104 95h2v1h-2zM107 95h1v1h-1zM109 95h1v1h-1zM113 95h1v1h-1zM122 95h1v1h-1zM140 95h1v1h-1zM86 96h1v1h-1zM89 96h1v1h-1zM94 96h1v1h-1zM96 96h1v1h-1zM99 96h1v1h-1zM102 96h1v1h-1zM106 96h1v1h-1zM108 96h1v1h-1zM114 96h1v1h-1zM122 96h1v1h-1zM126 96h1v1h-1zM56 97h1v1h-1zM73 97h1v1h-1zM77 97h1v1h-1zM85 97h1v1h-1zM91 97h2v1h-2zM95 97h1v1h-1zM97 97h1v1h-1zM99 97h1v1h-1zM103 97h1v1h-1zM105 97h1v1h-1zM107 97h2v1h-2zM110 97h1v1h-1zM112 97h1v1h-1zM116 97h1v1h-1zM123 97h1v1h-1zM127 97h1v1h-1zM131 97h1v1h-1zM80 98h1v1h-1zM86 98h3v1h-3zM95 98h2v1h-2zM101 98h5v1h-5zM108 98h1v1h-1zM110 98h1v1h-1zM116 98h1v1h-1zM118 98h1v1h-1zM143 98h1v1h-1zM63 99h1v1h-1zM77 99h2v1h-2zM85 99h4v1h-4zM90 99h1v1h-1zM95 99h1v1h-1zM100 99h2v1h-2zM111 99h1v1h-1zM119 99h1v1h-1zM132 99h1v1h-1zM82 100h2v1h-2zM88 100h1v1h-1zM91 100h1v1h-1zM95 100h1v1h-1zM98 100h1v1h-1zM106 100h2v1h-2zM110 100h3v1h-3zM114 100h2v1h-2zM126 100h1v1h-1zM73 101h2v1h-2zM77 101h1v1h-1zM88 101h1v1h-1zM96 101h1v1h-1zM99 101h2v1h-2zM103 101h1v1h-1zM105 101h1v1h-1zM107 101h2v1h-2zM116 101h3v1h-3zM121 101h1v1h-1zM128 101h2v1h-2zM69 102h1v1h-1zM74 102h1v1h-1zM79 102h1v1h-1zM89 102h1v1h-1zM94 102h2v1h-2zM98 102h1v1h-1zM102 102h2v1h-2zM106 102h1v1h-1zM111 102h1v1h-1zM114 102h1v1h-1zM117 102h1v1h-1zM133 102h1v1h-1zM70 103h1v1h-1zM75 103h2v1h-2zM79 103h1v1h-1zM81 103h1v1h-1zM84 103h2v1h-2zM91 103h2v1h-2zM96 103h3v1h-3zM101 103h1v1h-1zM108 103h2v1h-2zM111 103h2v1h-2zM119 103h1v1h-1zM78 104h1v1h-1zM83 104h1v1h-1zM85 104h2v1h-2zM88 104h1v1h-1zM92 104h1v1h-1zM94 104h3v1h-3zM99 104h2v1h-2zM102 104h3v1h-3zM106 104h1v1h-1zM110 104h1v1h-1zM112 104h1v1h-1zM115 104h1v1h-1zM120 104h1v1h-1zM122 104h1v1h-1zM134 104h1v1h-1zM67 105h1v1h-1zM82 105h2v1h-2zM87 105h1v1h-1zM89 105h2v1h-2zM94 105h2v1h-2zM99 105h2v1h-2zM112 105h4v1h-4zM120 105h1v1h-1zM54 106h1v1h-1zM71 106h1v1h-1zM75 106h1v1h-1zM80 106h1v1h-1zM90 106h1v1h-1zM94 106h1v1h-1zM97 106h1v1h-1zM99 106h1v1h-1zM101 106h1v1h-1zM104 106h1v1h-1zM106 106h1v1h-1zM108 106h2v1h-2zM116 106h1v1h-1zM123 106h1v1h-1zM127 106h1v1h-1zM137 106h1v1h-1zM62 107h1v1h-1zM76 107h1v1h-1zM79 107h1v1h-1zM84 107h1v1h-1zM89 107h2v1h-2zM92 107h2v1h-2zM95 107h1v1h-1zM98 107h4v1h-4zM104 107h1v1h-1zM109 107h1v1h-1zM116 107h1v1h-1zM119 107h1v1h-1zM127 107h1v1h-1zM129 107h1v1h-1zM131 107h1v1h-1zM135 107h1v1h-1zM75 108h1v1h-1zM79 108h1v1h-1zM85 108h1v1h-1zM88 108h1v1h-1zM91 108h1v1h-1zM94 108h2v1h-2zM99 108h2v1h-2zM103 108h5v1h-5zM109 108h1v1h-1zM112 108h1v1h-1zM116 108h2v1h-2zM125 108h1v1h-1zM57 109h1v1h-1zM72 109h1v1h-1zM76 109h1v1h-1zM78 109h1v1h-1zM80 109h1v1h-1zM84 109h1v1h-1zM86 109h3v1h-3zM97 109h2v1h-2zM102 109h3v1h-3zM109 109h4v1h-4zM117 109h1v1h-1zM119 109h1v1h-1zM121 109h2v1h-2zM124 109h1v1h-1zM126 109h2v1h-2zM135 109h1v1h-1zM65 110h1v1h-1zM72 110h1v1h-1zM76 110h1v1h-1zM91 110h1v1h-1zM95 110h1v1h-1zM100 110h3v1h-3zM106 110h1v1h-1zM108 110h1v1h-1zM112 110h1v1h-1zM114 110h1v1h-1zM121 110h1v1h-1zM125 110h1v1h-1zM70 111h2v1h-2zM74 111h1v1h-1zM76 111h1v1h-1zM79 111h1v1h-1zM82 111h6v1h-6zM91 111h2v1h-2zM104 111h2v1h-2zM111 111h1v1h-1zM113 111h1v1h-1zM68 112h1v1h-1zM77 112h1v1h-1zM79 112h2v1h-2zM85 112h1v1h-1zM91 112h1v1h-1zM106 112h1v1h-1zM108 112h2v1h-2zM111 112h1v1h-1zM114 112h1v1h-1zM117 112h1v1h-1zM60 113h1v1h-1zM82 113h2v1h-2zM85 113h2v1h-2zM89 113h2v1h-2zM98 113h1v1h-1zM100 113h1v1h-1zM104 113h1v1h-1zM107 113h1v1h-1zM110 113h1v1h-1zM112 113h1v1h-1zM116 113h3v1h-3zM122 113h1v1h-1zM128 113h2v1h-2zM97 114h1v1h-1zM104 114h1v1h-1zM118 114h1v1h-1zM124 114h1v1h-1zM135 114h1v1h-1zM138 114h1v1h-1zM67 115h1v1h-1zM69 115h1v1h-1zM80 115h1v1h-1zM82 115h1v1h-1zM85 115h2v1h-2zM89 115h2v1h-2zM92 115h2v1h-2zM95 115h2v1h-2zM98 115h1v1h-1zM100 115h2v1h-2zM109 115h2v1h-2zM112 115h2v1h-2zM116 115h1v1h-1zM129 115h1v1h-1zM148 115h1v1h-1zM77 116h1v1h-1zM81 116h2v1h-2zM84 116h1v1h-1zM87 116h1v1h-1zM90 116h2v1h-2zM95 116h1v1h-1zM103 116h1v1h-1zM113 116h2v1h-2zM116 116h1v1h-1zM121 116h2v1h-2zM125 116h1v1h-1zM129 116h1v1h-1zM132 116h1v1h-1zM143 116h1v1h-1zM50 117h1v1h-1zM57 117h1v1h-1zM71 117h1v1h-1zM88 117h1v1h-1zM90 117h1v1h-1zM93 117h1v1h-1zM97 117h1v1h-1zM101 117h2v1h-2zM104 117h1v1h-1zM106 117h2v1h-2zM111 117h2v1h-2zM116 117h1v1h-1zM124 117h1v1h-1zM131 117h1v1h-1zM78 118h1v1h-1zM83 118h2v1h-2zM87 118h2v1h-2zM90 118h1v1h-1zM94 118h1v1h-1zM100 118h1v1h-1zM105 118h1v1h-1zM107 118h1v1h-1zM111 118h1v1h-1zM114 118h1v1h-1zM128 118h1v1h-1zM146 118h1v1h-1zM77 119h1v1h-1zM79 119h1v1h-1zM92 119h1v1h-1zM103 119h1v1h-1zM105 119h1v1h-1zM110 119h2v1h-2zM117 119h1v1h-1zM120 119h2v1h-2zM131 119h1v1h-1zM65 120h1v1h-1zM81 120h1v1h-1zM94 120h2v1h-2zM105 120h1v1h-1zM132 120h1v1h-1zM81 121h1v1h-1zM92 121h3v1h-3zM103 121h1v1h-1zM107 121h1v1h-1zM111 121h2v1h-2zM115 121h1v1h-1zM123 121h1v1h-1zM68 122h1v1h-1zM76 122h1v1h-1zM78 122h1v1h-1zM81 122h2v1h-2zM85 122h1v1h-1zM90 122h1v1h-1zM95 122h1v1h-1zM98 122h3v1h-3zM104 122h1v1h-1zM111 122h1v1h-1zM114 122h1v1h-1zM116 122h1v1h-1zM138 122h1v1h-1zM91 123h1v1h-1zM93 123h1v1h-1zM97 123h2v1h-2zM108 123h2v1h-2zM128 123h1v1h-1zM81 124h1v1h-1zM92 124h2v1h-2zM99 124h1v1h-1zM104 124h1v1h-1zM106 124h1v1h-1zM114 124h1v1h-1zM118 124h1v1h-1zM121 124h1v1h-1zM123 124h1v1h-1zM78 125h1v1h-1zM87 125h2v1h-2zM99 125h1v1h-1zM103 125h1v1h-1zM108 125h1v1h-1zM75 126h1v1h-1zM83 126h1v1h-1zM88 126h1v1h-1zM93 126h1v1h-1zM101 126h1v1h-1zM104 126h1v1h-1zM113 126h1v1h-1zM124 126h1v1h-1zM126 126h2v1h-2zM62 127h1v1h-1zM70 127h1v1h-1zM74 127h1v1h-1zM87 127h1v1h-1zM89 127h1v1h-1zM96 127h1v1h-1zM99 127h1v1h-1zM102 127h2v1h-2zM110 127h1v1h-1zM116 127h1v1h-1zM128 127h1v1h-1zM54 128h1v1h-1zM83 128h1v1h-1zM96 128h1v1h-1zM98 128h1v1h-1zM104 128h1v1h-1zM116 128h1v1h-1zM120 128h1v1h-1zM123 128h2v1h-2zM137 128h1v1h-1zM100 129h1v1h-1zM102 129h1v1h-1zM104 129h1v1h-1zM107 129h1v1h-1zM130 129h1v1h-1zM79 130h1v1h-1zM97 130h1v1h-1zM107 130h1v1h-1zM111 130h1v1h-1zM113 130h1v1h-1zM123 130h1v1h-1zM147 130h1v1h-1zM83 131h1v1h-1zM102 131h1v1h-1zM87 132h1v1h-1zM102 132h1v1h-1zM118 132h1v1h-1zM136 132h1v1h-1zM140 132h1v1h-1zM80 133h1v1h-1zM88 133h2v1h-2zM114 133h1v1h-1zM116 133h1v1h-1zM127 133h1v1h-1zM104 134h1v1h-1zM114 134h1v1h-1zM125 135h1v1h-1zM86 136h1v1h-1zM91 136h1v1h-1zM99 136h1v1h-1zM84 137h1v1h-1zM87 137h1v1h-1zM89 137h1v1h-1zM109 137h1v1h-1zM92 138h1v1h-1zM104 138h1v1h-1zM116 138h1v1h-1zM127 138h1v1h-1zM111 139h1v1h-1zM116 139h1v1h-1zM123 139h1v1h-1zM96 140h1v1h-1zM106 140h1v1h-1zM128 140h1v1h-1zM107 141h1v1h-1zM122 142h1v1h-1zM79 143h1v1h-1zM93 143h1v1h-1zM125 143h1v1h-1zM82 144h1v1h-1zM103 144h1v1h-1zM79 145h1v1h-1zM109 145h1v1h-1zM101 146h1v1h-1zM124 146h1v1h-1zM81 147h1v1h-1zM88 147h1v1h-1zM121 152h1v1h-1zM82 158h1v1h-1z"/>
<path fill="#48cb86" d="M98 61h1v1h-1zM114 64h1v1h-1zM86 67h1v1h-1zM71 71h1v1h-1zM103 71h1v1h-1zM71 72h1v1h-1zM95 72h1v1h-1zM96 74h1v1h-1zM118 74h1v1h-1zM86 75h1v1h-1zM69 76h1v1h-1zM85 76h1v1h-1zM104 77h1v1h-1zM106 77h1v1h-1zM110 77h1v1h-1zM113 78h1v1h-1zM86 79h1v1h-1zM92 79h1v1h-1zM97 80h1v1h-1zM100 80h2v1h-2zM105 80h1v1h-1zM90 82h1v1h-1zM102 82h2v1h-2zM98 83h1v1h-1zM100 83h2v1h-2zM108 83h1v1h-1zM111 83h1v1h-1zM94 84h1v1h-1zM98 84h1v1h-1zM100 84h1v1h-1zM107 84h1v1h-1zM118 84h1v1h-1zM92 85h1v1h-1zM122 85h1v1h-1zM105 86h1v1h-1zM107 86h1v1h-1zM109 86h1v1h-1zM131 86h1v1h-1zM74 87h1v1h-1zM107 87h1v1h-1zM90 88h1v1h-1zM92 88h1v1h-1zM97 88h1v1h-1zM101 88h1v1h-1zM110 88h3v1h-3zM120 88h1v1h-1zM95 89h1v1h-1zM81 90h1v1h-1zM85 90h1v1h-1zM112 90h1v1h-1zM114 90h1v1h-1zM120 90h1v1h-1zM83 91h1v1h-1zM87 91h2v1h-2zM92 91h1v1h-1zM104 91h2v1h-2zM80 92h1v1h-1zM86 92h2v1h-2zM109 92h1v1h-1zM112 92h1v1h-1zM105 93h1v1h-1zM107 93h1v1h-1zM85 94h1v1h-1zM95 94h1v1h-1zM100 94h1v1h-1zM106 94h1v1h-1zM74 95h1v1h-1zM85 95h1v1h-1zM89 95h1v1h-1zM93 95h1v1h-1zM96 95h1v1h-1zM98 95h1v1h-1zM102 95h1v1h-1zM104 95h2v1h-2zM122 95h1v1h-1zM94 96h1v1h-1zM99 96h1v1h-1zM102 96h1v1h-1zM92 97h1v1h-1zM95 97h1v1h-1zM99 97h1v1h-1zM107 97h1v1h-1zM112 97h1v1h-1zM116 97h1v1h-1zM123 97h1v1h-1zM95 98h2v1h-2zM102 98h1v1h-1zM105 98h1v1h-1zM108 98h1v1h-1zM110 98h1v1h-1zM78 99h1v1h-1zM86 99h1v1h-1zM90 99h1v1h-1zM111 99h1v1h-1zM82 100h1v1h-1zM95 100h1v1h-1zM98 100h1v1h-1zM107 100h1v1h-1zM110 100h1v1h-1zM115 100h1v1h-1zM126 100h1v1h-1zM96 101h1v1h-1zM99 101h2v1h-2zM103 101h1v1h-1zM108 101h1v1h-1zM116 101h3v1h-3zM95 102h1v1h-1zM103 102h1v1h-1zM106 102h1v1h-1zM114 102h1v1h-1zM79 103h1v1h-1zM81 103h1v1h-1zM92 103h1v1h-1zM98 103h1v1h-1zM119 103h1v1h-1zM86 104h1v1h-1zM92 104h1v1h-1zM96 104h1v1h-1zM102 104h1v1h-1zM104 104h1v1h-1zM90 105h1v1h-1zM99 105h1v1h-1zM113 105h2v1h-2zM120 105h1v1h-1zM90 106h1v1h-1zM106 106h1v1h-1zM108 106h1v1h-1zM95 107h1v1h-1zM99 107h2v1h-2zM104 107h1v1h-1zM116 107h1v1h-1zM91 108h1v1h-1zM100 108h1v1h-1zM103 108h1v1h-1zM112 108h1v1h-1zM78 109h1v1h-1zM87 109h1v1h-1zM98 109h1v1h-1zM103 109h1v1h-1zM112 109h1v1h-1zM117 109h1v1h-1zM127 109h1v1h-1zM135 109h1v1h-1zM65 110h1v1h-1zM106 110h1v1h-1zM125 110h1v1h-1zM76 111h1v1h-1zM79 111h1v1h-1zM84 111h1v1h-1zM86 111h1v1h-1zM91 111h1v1h-1zM91 112h1v1h-1zM106 112h1v1h-1zM108 112h1v1h-1zM111 112h1v1h-1zM114 112h1v1h-1zM117 112h1v1h-1zM86 113h1v1h-1zM98 113h1v1h-1zM107 113h1v1h-1zM112 113h1v1h-1zM97 114h1v1h-1zM104 114h1v1h-1zM92 115h2v1h-2zM95 115h2v1h-2zM98 115h1v1h-1zM110 115h1v1h-1zM81 116h1v1h-1zM84 116h1v1h-1zM87 116h1v1h-1zM107 117h1v1h-1zM111 117h1v1h-1zM87 118h1v1h-1zM94 118h1v1h-1zM100 118h1v1h-1zM111 119h1v1h-1zM120 119h1v1h-1zM105 120h1v1h-1zM132 120h1v1h-1zM81 121h1v1h-1zM92 121h1v1h-1zM107 121h1v1h-1zM90 122h1v1h-1zM104 122h1v1h-1zM111 122h1v1h-1zM91 123h1v1h-1zM97 123h1v1h-1zM108 123h1v1h-1zM121 124h1v1h-1zM87 125h1v1h-1zM93 126h1v1h-1zM104 126h1v1h-1zM62 127h1v1h-1zM89 127h1v1h-1zM103 127h1v1h-1zM96 128h1v1h-1zM98 128h1v1h-1zM123 128h1v1h-1zM107 130h1v1h-1zM102 131h1v1h-1zM89 133h1v1h-1zM104 134h1v1h-1zM125 135h1v1h-1zM84 137h1v1h-1zM116 139h1v1h-1z"/>
<path fill="#eaba31" d="M86 67h1v1h-1zM96 74h1v1h-1zM101 80h1v1h-1zM111 83h1v1h-1zM111 88h1v1h-1zM120 88h1v1h-1zM81 90h1v1h-1zM87 92h1v1h-1zM105 93h1v1h-1zM95 94h1v1h-1zM98 95h1v1h-1zM105 95h1v1h-1zM92 97h1v1h-1zM96 98h1v1h-1zM102 98h1v1h-1zM108 98h1v1h-1zM78 99h1v1h-1zM95 100h1v1h-1zM98 100h1v1h-1zM99 101h1v1h-1zM103 101h1v1h-1zM108 101h1v1h-1zM92 104h1v1h-1zM102 104h1v1h-1zM113 105h2v1h-2zM90 106h1v1h-1zM91 108h1v1h-1zM103 109h1v1h-1zM117 109h1v1h-1zM127 109h1v1h-1zM135 109h1v1h-1zM106 110h1v1h-1zM106 112h1v1h-1zM111 112h1v1h-1zM86 113h1v1h-1zM98 113h1v1h-1zM107 113h1v1h-1zM112 113h1v1h-1zM93 115h1v1h-1zM96 115h1v1h-1zM98 115h1v1h-1zM107 117h1v1h-1zM111 119h1v1h-1zM120 119h1v1h-1zM132 120h1v1h-1zM90 122h1v1h-1zM87 125h1v1h-1z"/>
<path fill="#f9fb15" d="M81 90h1v1h-1zM96 98h1v1h-1zM95 100h1v1h-1zM98 100h1v1h-1zM108 101h1v1h-1zM90 106h1v1h-1zM117 109h1v1h-1zM107 117h1v1h-1z"/>
</g>
<rect x="1163.6" y="496" width="47.2" height="7" fill="#ffff00"/>
</g>
<g id="panel-d">
<text x="682.8" y="661.6" font-weight="bold" font-size="22.8" color="#2e2e2e" stroke-width="0">d</text>
<rect x="755.9" y="696" width="468.1" height="469.9" fill="#3e26a8"/>
<g transform="translate(970,916) scale(2.4)">
<path fill="#4433cc" d="M6 2h1v1h-1zM4 3h6v1h-6zM3 4h9v1h-9zM4 5h10v1h-10zM4 6h12v1h-12zM5 7h12v1h-12zM7 8h10v1h-10zM10 9h7v1h-7z"/>
<path fill="#4743e7" d="M5 3h4v1h-4zM4 4h7v1h-7zM4 5h9v1h-9zM5 6h9v1h-9zM6 7h10v1h-10zM8 8h8v1h-8z"/>
<path fill="#4755f6" d="M5 3h4v1h-4zM4 4h7v1h-7zM4 5h8v1h-8zM5 6h9v1h-9zM6 7h9v1h-9zM10 8h5v1h-5z"/>
<path fill="#4367fd" d="M6 3h2v1h-2zM5 4h6v1h-6zM5 5h7v1h-7zM6 6h8v1h-8zM7 7h7v1h-7zM10 8h4v1h-4z"/>
<path fill="#347afd" d="M7 3h1v1h-1zM5 4h5v1h-5zM5 5h7v1h-7zM6 6h7v1h-7zM7 7h7v1h-7zM11 8h2v1h-2z"/>
<path fill="#2d8cf3" d="M5 4h5v1h-5zM5 5h6v1h-6zM6 6h7v1h-7zM8 7h6v1h-6zM12 8h1v1h-1z"/>
<path fill="#259ce7" d="M5 4h5v1h-5zM6 5h5v1h-5zM6 6h7v1h-7zM8 7h6v1h-6z"/>
<path fill="#1caadf" d="M5 4h4v1h-4zM6 5h5v1h-5zM6 6h6v1h-6zM9 7h4v1h-4z"/>
<path fill="#05b6ce" d="M6 4h3v1h-3zM6 5h5v1h-5zM6 6h6v1h-6zM9 7h3v1h-3z"/>
<path fill="#12beb9" d="M6 4h2v1h-2zM6 5h5v1h-5zM7 6h5v1h-5zM11 7h1v1h-1z"/>
<path fill="#2fc5a2" d="M6 4h2v1h-2zM6 5h4v1h-4zM7 6h5v1h-5zM11 7h1v1h-1z"/>
<path fill="#48cb86" d="M7 4h1v1h-1zM6 5h4v1h-4zM7 6h5v1h-5zM11 7h1v1h-1z"/>
<path fill="#71cd64" d="M7 4h1v1h-1zM6 5h4v1h-4zM7 6h5v1h-5z"/>
<path fill="#9fc942" d="M6 5h4v1h-4zM7 6h5v1h-5z"/>
<path fill="#c8c129" d="M6 5h4v1h-4zM8 6h1v1h-1zM10 6h1v1h-1z"/>
<path fill="#eaba31" d="M6 5h4v1h-4zM8 6h1v1h-1zM10 6h1v1h-1z"/>
<path fill="#fec13a" d="M6 5h4v1h-4zM10 6h1v1h-1z"/>
<path fill="#fad42e" d="M6 5h3v1h-3zM10 6h1v1h-1z"/>
<path fill="#f5e825" d="M6 5h3v1h-3z"/>
<path fill="#f9fb15" d="M6 5h3v1h-3z"/>
</g>
<rect x="1165.1" y="1146" width="47.6" height="6.7" fill="#ffff00"/>
<path d="M942.2 899.6V883.2H958.6M1021.5 883.2H1037.9V899.6M1037.9 961.9V978.3H1021.5M958.6 978.3H942.2V961.9M979.3 883.2H1000.8M979.3 978.3H1000.8M942.2 920V941.5M1037.9 920V941.5" fill="none" stroke="#ff5000" stroke-width="3.6" stroke-linejoin="miter"/>
<path d="M1037.9 883.2L1124.25 739.85" stroke="#ff5000" stroke-width="3.6" fill="none"/><path d="M1135.6 721L1131.56 750.67L1124.25 739.85L1111.26 738.44z" fill="#ff5000"/>
<path d="M1037.9 978.3L1117.52 923.13" stroke="#ff5000" stroke-width="3.6" fill="none"/><path d="M1135.6 910.6L1119.75 936L1117.52 923.13L1106.25 916.52z" fill="#ff5000"/>
<rect x="1136.5" y="721.3" width="188.7" height="188.2" fill="#3e26a8" stroke="#ff0000" stroke-width="3.1"/>
<g transform="translate(1200,794)">
<path fill="#4536d5" d="M16 8h2v1h-2zM20 8h2v1h-2zM23 8h2v1h-2zM26 8h1v1h-1zM29 8h1v1h-1zM32 8h1v1h-1zM14 9h3v1h-3zM18 9h17v1h-17zM36 9h1v1h-1zM12 10h1v1h-1zM14 10h26v1h-26zM10 11h1v1h-1zM13 11h28v1h-28zM9 12h33v1h-33zM44 12h1v1h-1zM8 13h38v1h-38zM7 14h41v1h-41zM8 15h41v1h-41zM7 16h1v1h-1zM9 16h42v1h-42zM9 17h44v1h-44zM8 18h47v1h-47zM8 19h49v1h-49zM9 20h49v1h-49zM59 20h1v1h-1zM8 21h53v1h-53zM9 22h54v1h-54zM10 23h1v1h-1zM12 23h53v1h-53zM12 24h1v1h-1zM14 24h53v1h-53zM12 25h57v1h-57zM13 26h56v1h-56zM70 26h1v1h-1zM15 27h56v1h-56zM17 28h54v1h-54zM72 28h1v1h-1zM20 29h54v1h-54zM22 30h51v1h-51zM74 30h2v1h-2zM23 31h48v1h-48zM72 31h3v1h-3zM28 32h44v1h-44zM73 32h3v1h-3zM32 33h41v1h-41zM38 34h2v1h-2zM41 34h9v1h-9zM51 34h2v1h-2zM54 34h7v1h-7zM63 34h2v1h-2zM66 34h2v1h-2zM71 34h1v1h-1zM48 35h1v1h-1zM52 35h1v1h-1zM55 35h4v1h-4zM60 35h1v1h-1zM63 35h2v1h-2z"/>
<path fill="#484cef" d="M19 10h2v1h-2zM22 10h1v1h-1zM24 10h1v1h-1zM26 10h2v1h-2zM19 11h8v1h-8zM29 11h5v1h-5zM35 11h1v1h-1zM15 12h25v1h-25zM14 13h2v1h-2zM17 13h23v1h-23zM12 14h31v1h-31zM13 15h32v1h-32zM11 16h36v1h-36zM11 17h2v1h-2zM14 17h34v1h-34zM11 18h1v1h-1zM13 18h37v1h-37zM13 19h40v1h-40zM14 20h41v1h-41zM12 21h44v1h-44zM14 22h42v1h-42zM57 22h1v1h-1zM14 23h46v1h-46zM17 24h46v1h-46zM16 25h49v1h-49zM20 26h42v1h-42zM63 26h1v1h-1zM22 27h1v1h-1zM24 27h42v1h-42zM24 28h40v1h-40zM65 28h2v1h-2zM68 28h1v1h-1zM28 29h36v1h-36zM27 30h2v1h-2zM30 30h1v1h-1zM32 30h28v1h-28zM61 30h5v1h-5zM33 31h2v1h-2zM36 31h1v1h-1zM38 31h4v1h-4zM43 31h20v1h-20zM37 32h3v1h-3zM41 32h4v1h-4zM48 32h1v1h-1zM53 32h1v1h-1zM55 32h1v1h-1zM62 32h1v1h-1zM54 33h1v1h-1z"/>
<path fill="#4562fc" d="M20 11h1v1h-1zM23 11h1v1h-1zM17 12h3v1h-3zM21 12h7v1h-7zM29 12h1v1h-1zM34 12h2v1h-2zM15 13h1v1h-1zM18 13h9v1h-9zM28 13h5v1h-5zM34 13h1v1h-1zM36 13h2v1h-2zM16 14h23v1h-23zM40 14h1v1h-1zM13 15h1v1h-1zM15 15h25v1h-25zM41 15h3v1h-3zM16 16h28v1h-28zM16 17h31v1h-31zM13 18h34v1h-34zM49 18h1v1h-1zM14 19h32v1h-32zM48 19h1v1h-1zM15 20h2v1h-2zM18 20h33v1h-33zM14 21h36v1h-36zM54 21h2v1h-2zM16 22h39v1h-39zM57 22h1v1h-1zM17 23h34v1h-34zM52 23h5v1h-5zM59 23h1v1h-1zM18 24h38v1h-38zM57 24h2v1h-2zM20 25h3v1h-3zM24 25h34v1h-34zM21 26h1v1h-1zM25 26h24v1h-24zM50 26h12v1h-12zM24 27h1v1h-1zM26 27h21v1h-21zM48 27h8v1h-8zM57 27h3v1h-3zM25 28h34v1h-34zM61 28h1v1h-1zM65 28h1v1h-1zM29 29h2v1h-2zM32 29h2v1h-2zM35 29h1v1h-1zM38 29h2v1h-2zM41 29h5v1h-5zM47 29h4v1h-4zM52 29h6v1h-6zM62 29h1v1h-1zM32 30h1v1h-1zM36 30h6v1h-6zM44 30h2v1h-2zM48 30h1v1h-1zM50 30h3v1h-3zM55 30h3v1h-3zM39 31h3v1h-3zM46 31h1v1h-1zM50 31h1v1h-1zM54 31h1v1h-1zM57 31h1v1h-1zM59 31h1v1h-1z"/>
<path fill="#347afd" d="M22 12h4v1h-4zM27 12h1v1h-1zM20 13h1v1h-1zM22 13h1v1h-1zM24 13h3v1h-3zM28 13h2v1h-2zM31 13h1v1h-1zM34 13h1v1h-1zM36 13h2v1h-2zM16 14h7v1h-7zM24 14h3v1h-3zM29 14h1v1h-1zM31 14h7v1h-7zM16 15h1v1h-1zM18 15h12v1h-12zM31 15h4v1h-4zM36 15h4v1h-4zM19 16h19v1h-19zM39 16h5v1h-5zM16 17h1v1h-1zM18 17h23v1h-23zM42 17h1v1h-1zM44 17h1v1h-1zM14 18h1v1h-1zM16 18h26v1h-26zM44 18h1v1h-1zM46 18h1v1h-1zM14 19h26v1h-26zM41 19h1v1h-1zM43 19h3v1h-3zM48 19h1v1h-1zM15 20h1v1h-1zM18 20h23v1h-23zM42 20h2v1h-2zM45 20h1v1h-1zM49 20h2v1h-2zM17 21h25v1h-25zM43 21h2v1h-2zM46 21h1v1h-1zM48 21h2v1h-2zM17 22h27v1h-27zM45 22h4v1h-4zM50 22h2v1h-2zM53 22h2v1h-2zM19 23h3v1h-3zM23 23h24v1h-24zM48 23h3v1h-3zM52 23h3v1h-3zM18 24h3v1h-3zM22 24h23v1h-23zM47 24h8v1h-8zM20 25h3v1h-3zM25 25h21v1h-21zM48 25h3v1h-3zM54 25h2v1h-2zM25 26h8v1h-8zM34 26h13v1h-13zM48 26h1v1h-1zM50 26h1v1h-1zM53 26h1v1h-1zM56 26h1v1h-1zM59 26h1v1h-1zM27 27h1v1h-1zM31 27h10v1h-10zM42 27h5v1h-5zM48 27h1v1h-1zM51 27h5v1h-5zM58 27h2v1h-2zM26 28h1v1h-1zM28 28h4v1h-4zM34 28h1v1h-1zM36 28h3v1h-3zM40 28h6v1h-6zM47 28h1v1h-1zM49 28h5v1h-5zM55 28h2v1h-2zM58 28h1v1h-1zM30 29h1v1h-1zM33 29h1v1h-1zM42 29h4v1h-4zM48 29h1v1h-1zM50 29h1v1h-1zM52 29h4v1h-4zM57 29h1v1h-1zM36 30h1v1h-1zM38 30h1v1h-1zM40 30h1v1h-1zM45 30h1v1h-1zM50 30h1v1h-1zM55 30h1v1h-1z"/>
<path fill="#2c90f0" d="M25 12h1v1h-1zM20 13h1v1h-1zM22 13h1v1h-1zM29 13h1v1h-1zM31 13h1v1h-1zM34 13h1v1h-1zM17 14h1v1h-1zM19 14h3v1h-3zM25 14h2v1h-2zM29 14h1v1h-1zM31 14h5v1h-5zM19 15h1v1h-1zM21 15h6v1h-6zM28 15h2v1h-2zM31 15h3v1h-3zM36 15h1v1h-1zM38 15h1v1h-1zM19 16h19v1h-19zM39 16h1v1h-1zM41 16h2v1h-2zM16 17h1v1h-1zM18 17h2v1h-2zM22 17h17v1h-17zM40 17h1v1h-1zM42 17h1v1h-1zM18 18h13v1h-13zM32 18h3v1h-3zM37 18h2v1h-2zM40 18h1v1h-1zM44 18h1v1h-1zM18 19h5v1h-5zM25 19h5v1h-5zM33 19h5v1h-5zM39 19h1v1h-1zM41 19h1v1h-1zM43 19h3v1h-3zM18 20h11v1h-11zM30 20h5v1h-5zM36 20h2v1h-2zM39 20h2v1h-2zM43 20h1v1h-1zM17 21h1v1h-1zM19 21h5v1h-5zM25 21h17v1h-17zM43 21h2v1h-2zM46 21h1v1h-1zM49 21h1v1h-1zM22 22h6v1h-6zM29 22h6v1h-6zM37 22h1v1h-1zM40 22h2v1h-2zM45 22h4v1h-4zM50 22h2v1h-2zM20 23h2v1h-2zM23 23h5v1h-5zM29 23h4v1h-4zM34 23h7v1h-7zM42 23h3v1h-3zM46 23h1v1h-1zM48 23h2v1h-2zM20 24h1v1h-1zM23 24h1v1h-1zM25 24h9v1h-9zM38 24h1v1h-1zM40 24h5v1h-5zM49 24h2v1h-2zM52 24h1v1h-1zM22 25h1v1h-1zM25 25h2v1h-2zM29 25h2v1h-2zM33 25h8v1h-8zM42 25h3v1h-3zM48 25h1v1h-1zM50 25h1v1h-1zM25 26h6v1h-6zM32 26h1v1h-1zM34 26h13v1h-13zM48 26h1v1h-1zM50 26h1v1h-1zM31 27h3v1h-3zM35 27h1v1h-1zM37 27h3v1h-3zM43 27h3v1h-3zM51 27h1v1h-1zM53 27h2v1h-2zM31 28h1v1h-1zM34 28h1v1h-1zM38 28h1v1h-1zM40 28h1v1h-1zM42 28h1v1h-1zM44 28h2v1h-2zM47 28h1v1h-1zM49 28h1v1h-1zM51 28h2v1h-2zM55 28h2v1h-2zM42 29h1v1h-1zM44 29h1v1h-1zM48 29h1v1h-1z"/>
<path fill="#21a3e3" d="M29 13h1v1h-1zM21 14h1v1h-1zM26 14h1v1h-1zM29 14h1v1h-1zM31 14h1v1h-1zM34 14h1v1h-1zM19 15h1v1h-1zM21 15h1v1h-1zM23 15h3v1h-3zM28 15h1v1h-1zM31 15h2v1h-2zM36 15h1v1h-1zM19 16h1v1h-1zM21 16h7v1h-7zM30 16h1v1h-1zM32 16h3v1h-3zM36 16h2v1h-2zM39 16h1v1h-1zM18 17h2v1h-2zM24 17h1v1h-1zM26 17h8v1h-8zM35 17h1v1h-1zM37 17h2v1h-2zM40 17h1v1h-1zM20 18h3v1h-3zM24 18h5v1h-5zM30 18h1v1h-1zM33 18h2v1h-2zM37 18h2v1h-2zM40 18h1v1h-1zM20 19h3v1h-3zM25 19h5v1h-5zM33 19h5v1h-5zM39 19h1v1h-1zM41 19h1v1h-1zM43 19h1v1h-1zM45 19h1v1h-1zM18 20h1v1h-1zM20 20h9v1h-9zM30 20h1v1h-1zM33 20h2v1h-2zM36 20h2v1h-2zM39 20h2v1h-2zM43 20h1v1h-1zM19 21h5v1h-5zM25 21h4v1h-4zM30 21h2v1h-2zM34 21h1v1h-1zM36 21h2v1h-2zM39 21h3v1h-3zM43 21h2v1h-2zM22 22h4v1h-4zM27 22h1v1h-1zM29 22h1v1h-1zM31 22h2v1h-2zM34 22h1v1h-1zM37 22h1v1h-1zM40 22h2v1h-2zM45 22h1v1h-1zM47 22h1v1h-1zM21 23h1v1h-1zM24 23h4v1h-4zM29 23h3v1h-3zM36 23h5v1h-5zM42 23h3v1h-3zM46 23h1v1h-1zM48 23h2v1h-2zM23 24h1v1h-1zM25 24h2v1h-2zM28 24h1v1h-1zM30 24h4v1h-4zM38 24h1v1h-1zM40 24h1v1h-1zM42 24h3v1h-3zM49 24h1v1h-1zM25 25h2v1h-2zM29 25h1v1h-1zM33 25h4v1h-4zM38 25h3v1h-3zM42 25h1v1h-1zM26 26h1v1h-1zM34 26h4v1h-4zM39 26h1v1h-1zM42 26h2v1h-2zM31 27h1v1h-1zM33 27h1v1h-1zM35 27h1v1h-1zM37 27h2v1h-2zM43 27h3v1h-3zM42 28h1v1h-1zM45 28h1v1h-1z"/>
<path fill="#0cb3d3" d="M26 14h1v1h-1zM29 14h1v1h-1zM21 15h1v1h-1zM23 15h3v1h-3zM31 15h1v1h-1zM21 16h1v1h-1zM23 16h1v1h-1zM26 16h2v1h-2zM30 16h1v1h-1zM32 16h3v1h-3zM36 16h2v1h-2zM19 17h1v1h-1zM24 17h1v1h-1zM26 17h5v1h-5zM32 17h1v1h-1zM35 17h1v1h-1zM37 17h1v1h-1zM20 18h1v1h-1zM22 18h1v1h-1zM24 18h2v1h-2zM27 18h2v1h-2zM30 18h1v1h-1zM33 18h2v1h-2zM37 18h2v1h-2zM21 19h2v1h-2zM25 19h5v1h-5zM33 19h3v1h-3zM37 19h1v1h-1zM41 19h1v1h-1zM43 19h1v1h-1zM20 20h9v1h-9zM33 20h1v1h-1zM36 20h2v1h-2zM39 20h2v1h-2zM43 20h1v1h-1zM20 21h4v1h-4zM27 21h1v1h-1zM30 21h1v1h-1zM36 21h2v1h-2zM39 21h3v1h-3zM44 21h1v1h-1zM22 22h1v1h-1zM24 22h2v1h-2zM29 22h1v1h-1zM31 22h1v1h-1zM34 22h1v1h-1zM37 22h1v1h-1zM41 22h1v1h-1zM25 23h3v1h-3zM29 23h1v1h-1zM31 23h1v1h-1zM36 23h4v1h-4zM23 24h1v1h-1zM25 24h1v1h-1zM30 24h4v1h-4zM38 24h1v1h-1zM40 24h1v1h-1zM43 24h1v1h-1zM25 25h2v1h-2zM33 25h1v1h-1zM35 25h2v1h-2zM39 25h2v1h-2zM34 26h1v1h-1zM37 26h1v1h-1zM39 26h1v1h-1zM42 26h1v1h-1zM33 27h1v1h-1zM38 27h1v1h-1zM43 27h1v1h-1z"/>
<path fill="#12beb9" d="M27 16h1v1h-1zM30 16h1v1h-1zM32 16h1v1h-1zM28 17h3v1h-3zM32 17h1v1h-1zM35 17h1v1h-1zM20 18h1v1h-1zM27 18h2v1h-2zM30 18h1v1h-1zM34 18h1v1h-1zM38 18h1v1h-1zM22 19h1v1h-1zM25 19h1v1h-1zM27 19h3v1h-3zM33 19h2v1h-2zM21 20h3v1h-3zM26 20h3v1h-3zM36 20h2v1h-2zM40 20h1v1h-1zM21 21h3v1h-3zM27 21h1v1h-1zM39 21h1v1h-1zM22 22h1v1h-1zM24 22h2v1h-2zM31 22h1v1h-1zM34 22h1v1h-1zM29 23h1v1h-1zM31 24h2v1h-2zM40 24h1v1h-1zM36 25h1v1h-1zM40 25h1v1h-1z"/>
<path fill="#34c79c" d="M29 17h2v1h-2zM32 17h1v1h-1zM27 18h2v1h-2zM30 18h1v1h-1zM34 18h1v1h-1zM25 19h1v1h-1zM28 19h2v1h-2zM33 19h1v1h-1zM22 20h1v1h-1zM26 20h2v1h-2zM22 21h2v1h-2zM22 22h1v1h-1zM31 22h1v1h-1zM34 22h1v1h-1zM29 23h1v1h-1zM31 24h2v1h-2z"/>
<path fill="#5ccc76" d="M29 17h1v1h-1zM28 18h1v1h-1zM30 18h1v1h-1zM25 19h1v1h-1zM26 20h1v1h-1zM22 22h1v1h-1z"/>
<path fill="#94ca4a" d="M22 22h1v1h-1z"/>
<path fill="#c8c129" d="M22 22h1v1h-1z"/>
</g>
<rect x="1285" y="893.3" width="32" height="6.3" fill="#00ff40"/>
</g>
<g id="panel-e">
<text x="1374.8" y="13.4" font-weight="bold" font-size="22.8" color="#2e2e2e" stroke-width="0">e</text>
<path d="M1846.72 282.15L1846.66 277.62L1846.49 273.1L1846.2 268.58L1845.8 264.07L1845.29 259.57L1844.66 255.08L1843.92 250.62L1843.06 246.18L1842.1 241.76L1841.02 237.36L1839.83 233L1838.53 228.67L1837.13 224.38L1835.61 220.12L1833.99 215.91L1832.26 211.74L1830.42 207.62L1828.48 203.54L1826.44 199.53L1824.3 195.56L1822.06 191.66L1819.72 187.81L1817.28 184.03L1814.75 180.31L1812.12 176.67L1809.4 173.09L1806.59 169.59L1803.7 166.16L1800.71 162.81L1797.65 159.54L1794.5 156.36L1791.27 153.26L1787.96 150.24L1784.58 147.32L1781.12 144.48L1777.59 141.74L1773.99 139.1L1770.33 136.55L1766.6 134.1L1762.81 131.75L1758.96 129.5L1755.06 127.35L1751.1 125.31L1747.09 123.38L1743.03 121.55L1738.93 119.83L1734.78 118.23L1730.59 116.73L1726.37 115.35L1722.11 114.08L1717.81 112.93L1713.49 111.89L1709.15 110.96L1704.78 110.16L1700.39 109.47L1695.98 108.9L1691.56 108.45L1687.13 108.11L1682.69 107.9L1678.25 107.8L1673.81 107.93L1669.37 108.23L1664.95 108.68L1660.55 109.26L1656.17 109.97L1651.82 110.8L1647.5 111.76L1643.2 112.84L1638.95 114.04L1634.73 115.35L1630.54 116.77L1626.41 118.3L1622.31 119.94L1618.26 121.68L1614.26 123.52L1610.31 125.45L1606.41 127.49L1602.56 129.61L1598.77 131.83L1595.03 134.14L1591.35 136.53L1587.73 139.01L1584.16 141.57L1580.66 144.22L1577.21 146.94L1573.83 149.74L1570.51 152.62L1567.26 155.57L1564.07 158.6L1560.95 161.7L1557.9 164.87L1554.91 168.11L1552 171.42L1549.15 174.8L1546.38 178.25L1543.69 181.76L1541.07 185.34L1538.53 188.98L1536.07 192.68L1533.69 196.45L1531.4 200.27L1529.19 204.16L1527.07 208.1L1525.04 212.11L1523.11 216.16L1521.27 220.27L1519.53 224.43L1517.89 228.64L1516.35 232.9L1514.92 237.21L1513.59 241.56L1512.38 245.95L1511.29 250.37L1510.31 254.84L1509.45 259.33L1508.72 263.85L1508.11 268.4L1507.64 272.97L1507.31 277.55L1507.15 282.15L1507.21 286.75L1507.38 291.35L1507.68 295.93L1508.09 300.51L1508.62 305.08L1509.27 309.63L1510.03 314.16L1510.91 318.67L1511.91 323.16L1513.02 327.61L1514.25 332.04L1515.58 336.42L1517.03 340.77L1518.59 345.08L1520.26 349.35L1522.04 353.57L1523.93 357.73L1525.92 361.85L1528.02 365.91L1530.22 369.91L1532.53 373.85L1534.93 377.72L1537.43 381.53L1540.03 385.27L1542.72 388.94L1545.51 392.53L1548.38 396.05L1551.35 399.48L1554.4 402.84L1557.53 406.11L1560.75 409.29L1564.05 412.39L1567.43 415.39L1570.88 418.31L1574.4 421.12L1578 423.84L1581.66 426.47L1585.39 428.99L1589.18 431.41L1593.03 433.73L1596.94 435.94L1600.9 438.04L1604.91 440.04L1608.97 441.93L1613.08 443.7L1617.24 445.37L1621.43 446.92L1625.66 448.36L1629.92 449.69L1634.22 450.9L1638.54 451.99L1642.89 452.96L1647.27 453.82L1651.66 454.56L1656.07 455.18L1660.49 455.68L1664.92 456.07L1669.36 456.33L1673.8 456.47L1678.25 456.5L1682.69 456.3L1687.12 455.93L1691.53 455.41L1695.92 454.76L1700.28 453.98L1704.61 453.08L1708.92 452.05L1713.18 450.91L1717.41 449.65L1721.6 448.27L1725.74 446.79L1729.84 445.2L1733.9 443.51L1737.9 441.72L1741.85 439.83L1745.75 437.84L1749.6 435.76L1753.39 433.59L1757.13 431.34L1760.81 428.99L1764.43 426.56L1767.99 424.05L1771.49 421.47L1774.93 418.8L1778.31 416.05L1781.62 413.24L1784.87 410.35L1788.06 407.38L1791.18 404.35L1794.23 401.25L1797.22 398.08L1800.13 394.84L1802.98 391.54L1805.75 388.18L1808.46 384.75L1811.09 381.25L1813.64 377.7L1816.12 374.09L1818.51 370.41L1820.83 366.68L1823.07 362.89L1825.22 359.05L1827.28 355.14L1829.26 351.19L1831.14 347.18L1832.94 343.12L1834.63 339.02L1836.23 334.86L1837.73 330.66L1839.13 326.42L1840.42 322.13L1841.6 317.8L1842.67 313.44L1843.62 309.05L1844.46 304.62L1845.18 300.17L1845.77 295.69L1846.23 291.19L1846.56 286.68zM1796.57 282.15L1796.74 278.96L1796.84 275.77L1796.85 272.57L1796.77 269.36L1796.61 266.15L1796.36 262.94L1796.03 259.73L1795.6 256.54L1795.09 253.35L1794.49 250.17L1793.79 247L1793.01 243.86L1792.13 240.74L1791.17 237.64L1790.11 234.57L1788.96 231.53L1787.73 228.53L1786.4 225.56L1784.99 222.64L1783.49 219.76L1781.9 216.93L1780.23 214.14L1778.48 211.41L1776.64 208.74L1774.73 206.13L1772.74 203.58L1770.68 201.09L1768.54 198.66L1766.34 196.31L1764.07 194.03L1761.73 191.81L1759.34 189.68L1756.88 187.61L1754.37 185.63L1751.8 183.72L1749.19 181.89L1746.52 180.14L1743.82 178.47L1741.07 176.89L1738.28 175.38L1735.46 173.96L1732.6 172.62L1729.71 171.36L1726.79 170.19L1723.85 169.1L1720.89 168.09L1717.9 167.16L1714.9 166.32L1711.88 165.56L1708.85 164.88L1705.81 164.29L1702.75 163.77L1699.69 163.34L1696.63 162.99L1693.56 162.71L1690.49 162.52L1687.43 162.41L1684.36 162.38L1681.3 162.43L1678.25 162.55L1675.21 162.76L1672.17 163.04L1669.15 163.4L1666.14 163.84L1663.15 164.35L1660.17 164.94L1657.22 165.61L1654.28 166.35L1651.37 167.16L1648.48 168.05L1645.62 169.02L1642.78 170.05L1639.97 171.16L1637.2 172.34L1634.46 173.58L1631.75 174.9L1629.08 176.28L1626.44 177.73L1623.84 179.25L1621.28 180.83L1618.76 182.47L1616.29 184.17L1613.85 185.93L1611.46 187.76L1609.12 189.63L1606.82 191.57L1604.56 193.56L1602.36 195.6L1600.2 197.69L1598.09 199.83L1596.03 202.02L1594.01 204.26L1592.05 206.55L1590.13 208.88L1588.27 211.25L1586.46 213.67L1584.7 216.12L1582.99 218.62L1581.33 221.16L1579.72 223.73L1578.16 226.35L1576.66 229L1575.21 231.68L1573.82 234.41L1572.48 237.16L1571.2 239.95L1569.97 242.78L1568.81 245.63L1567.7 248.52L1566.65 251.44L1565.66 254.39L1564.74 257.37L1563.88 260.38L1563.08 263.42L1562.36 266.48L1561.7 269.57L1561.12 272.68L1560.61 275.82L1560.17 278.97L1559.82 282.15L1559.54 285.34L1559.34 288.55L1559.23 291.77L1559.21 295L1559.27 298.24L1559.42 301.48L1559.66 304.72L1559.99 307.96L1560.41 311.2L1560.93 314.43L1561.55 317.65L1562.26 320.85L1563.07 324.03L1563.98 327.19L1564.98 330.33L1566.09 333.43L1567.29 336.5L1568.58 339.53L1569.97 342.52L1571.46 345.46L1573.04 348.35L1574.71 351.19L1576.48 353.98L1578.33 356.7L1580.26 359.36L1582.28 361.95L1584.38 364.48L1586.56 366.93L1588.81 369.31L1591.13 371.61L1593.52 373.83L1595.98 375.97L1598.5 378.03L1601.08 380.01L1603.71 381.9L1606.39 383.71L1609.13 385.43L1611.9 387.06L1614.72 388.61L1617.58 390.06L1620.47 391.43L1623.39 392.72L1626.34 393.91L1629.31 395.02L1632.31 396.05L1635.32 396.99L1638.35 397.84L1641.4 398.61L1644.46 399.3L1647.52 399.91L1650.6 400.43L1653.67 400.88L1656.76 401.24L1659.84 401.53L1662.92 401.74L1666 401.87L1669.07 401.93L1672.14 401.91L1675.2 401.82L1678.25 401.66L1681.29 401.42L1684.32 401.11L1687.34 400.73L1690.34 400.28L1693.33 399.75L1696.3 399.16L1699.25 398.5L1702.18 397.76L1705.09 396.96L1707.98 396.09L1710.85 395.15L1713.69 394.15L1716.5 393.07L1719.29 391.93L1722.05 390.72L1724.77 389.45L1727.47 388.11L1730.13 386.7L1732.76 385.24L1735.35 383.7L1737.9 382.11L1740.42 380.45L1742.89 378.73L1745.32 376.95L1747.71 375.11L1750.06 373.21L1752.36 371.26L1754.62 369.25L1756.83 367.18L1758.99 365.06L1761.1 362.88L1763.16 360.65L1765.16 358.38L1767.12 356.05L1769.02 353.67L1770.87 351.25L1772.66 348.78L1774.4 346.27L1776.08 343.71L1777.7 341.11L1779.26 338.47L1780.77 335.79L1782.21 333.07L1783.6 330.31L1784.92 327.52L1786.18 324.69L1787.37 321.83L1788.5 318.93L1789.56 316.01L1790.56 313.05L1791.49 310.07L1792.35 307.05L1793.13 304.01L1793.85 300.95L1794.49 297.87L1795.06 294.76L1795.56 291.63L1795.97 288.49L1796.31 285.32z" fill="#0072bd" fill-rule="evenodd"/>
<path d="M1776.24 347.5L1777.95 344.89L1779.6 342.24L1781.19 339.55L1782.73 336.81L1784.2 334.04L1785.6 331.23L1786.95 328.38L1788.23 325.5L1789.44 322.58L1790.59 319.63L1791.67 316.65L1792.68 313.64L1793.62 310.59L1794.49 307.52L1795.29 304.43L1796.02 301.3L1796.67 298.16L1797.25 294.99L1797.74 291.81L1798.16 288.6L1798.5 285.38L1798.76 282.15L1798.94 278.9L1799.03 275.65L1799.03 272.39L1798.96 269.12L1798.79 265.85L1798.53 262.59L1798.19 259.32L1797.75 256.07L1797.23 252.82L1796.61 249.58L1795.9 246.36L1795.1 243.16L1794.2 239.99L1793.22 236.83L1792.14 233.71L1790.97 230.62L1789.71 227.56L1788.36 224.54L1786.92 221.56L1785.39 218.63L1783.77 215.75L1782.07 212.92L1780.29 210.14L1778.42 207.42L1776.47 204.76L1774.45 202.16L1772.35 199.62L1770.18 197.15L1767.93 194.76" fill="none" stroke="#fff" stroke-width="0.8"/>
<ellipse cx="1678.25" cy="282.15" rx="163.05" ry="167.43" fill="none" stroke="#ffff00" stroke-width="3" stroke-dasharray="11.4 9.79" stroke-dashoffset="11"/>
<rect x="1458.7" y="56.7" width="439.1" height="450.9" fill="none" stroke="#262626" stroke-width="2.9"/>
<path d="M1531.88 507.6v-6.1M1531.88 56.7v6.1M1458.7 131.85h5.9M1897.8 131.85h-5.9M1605.07 507.6v-6.1M1605.07 56.7v6.1M1458.7 207h5.9M1897.8 207h-5.9M1678.25 507.6v-6.1M1678.25 56.7v6.1M1458.7 282.15h5.9M1897.8 282.15h-5.9M1751.43 507.6v-6.1M1751.43 56.7v6.1M1458.7 357.3h5.9M1897.8 357.3h-5.9M1824.62 507.6v-6.1M1824.62 56.7v6.1M1458.7 432.45h5.9M1897.8 432.45h-5.9" stroke="#262626" stroke-width="2.7" fill="none"/>
<text transform="translate(1451.2,65.6) scale(0.965,1.04)" text-anchor="end">150</text>
<text transform="translate(1451.2,140.2) scale(0.965,1.04)" text-anchor="end">100</text>
<text transform="translate(1451.2,214.8) scale(0.965,1.04)" text-anchor="end">50</text>
<text transform="translate(1451.2,289.8) scale(0.965,1.04)" text-anchor="end">0</text>
<text transform="translate(1451.2,364.4) scale(0.965,1.04)" text-anchor="end">-50</text>
<text transform="translate(1451.2,439.6) scale(0.965,1.04)" text-anchor="end">-100</text>
<text transform="translate(1451.2,512.6) scale(0.965,1.04)" text-anchor="end">-150</text>
<text transform="translate(1452,538.1) scale(0.965,1.04)" text-anchor="middle">-150</text>
<text transform="translate(1530.5,538.1) scale(0.965,1.04)" text-anchor="middle">-100</text>
<text transform="translate(1603.7,538.1) scale(0.965,1.04)" text-anchor="middle">-50</text>
<text transform="translate(1680.2,538.1) scale(0.965,1.04)" text-anchor="middle">0</text>
<text transform="translate(1753,538.1) scale(0.965,1.04)" text-anchor="middle">50</text>
<text transform="translate(1826.3,538.1) scale(0.965,1.04)" text-anchor="middle">100</text>
<text transform="translate(1897,538.1) scale(0.965,1.04)" text-anchor="middle">150</text>
<text x="1677.5" y="573.6" text-anchor="middle"><tspan font-weight="bold" font-style="italic" color="#000">x</tspan> (µm)</text>
<text transform="translate(1384.4,279.3) rotate(-90)" text-anchor="middle"><tspan font-weight="bold" font-style="italic" color="#000">y</tspan> (µm)</text>
</g>
<g id="panel-f">
<text x="1385.2" y="661.6" font-weight="bold" font-size="22.8" color="#2e2e2e" stroke-width="0">f</text>
<rect x="1438.9" y="697.9" width="473" height="473" fill="#3e26a8"/>
<g transform="translate(1604.8,868.8) scale(2.4)">
<path fill="#4433cc" d="M26 6h1v1h-1zM16 7h1v1h-1zM16 10h1v1h-1zM18 10h1v1h-1zM28 10h2v1h-2zM32 10h1v1h-1zM27 11h1v1h-1zM40 11h1v1h-1zM20 12h1v1h-1zM25 13h2v1h-2zM28 13h1v1h-1zM35 13h1v1h-1zM20 14h1v1h-1zM28 14h2v1h-2zM12 15h1v1h-1zM14 15h1v1h-1zM18 15h1v1h-1zM30 15h1v1h-1zM34 15h2v1h-2zM8 16h1v1h-1zM18 16h1v1h-1zM25 16h1v1h-1zM29 16h1v1h-1zM35 16h1v1h-1zM37 16h1v1h-1zM43 16h1v1h-1zM17 17h1v1h-1zM19 17h1v1h-1zM33 17h2v1h-2zM39 17h1v1h-1zM43 17h2v1h-2zM13 18h1v1h-1zM17 18h1v1h-1zM19 18h1v1h-1zM22 18h1v1h-1zM25 18h1v1h-1zM36 18h2v1h-2zM15 19h1v1h-1zM20 19h1v1h-1zM29 19h1v1h-1zM38 19h3v1h-3zM43 19h1v1h-1zM9 20h2v1h-2zM16 20h1v1h-1zM19 20h1v1h-1zM21 20h1v1h-1zM24 20h1v1h-1zM27 20h2v1h-2zM33 20h2v1h-2zM39 20h1v1h-1zM41 20h1v1h-1zM45 20h1v1h-1zM9 21h1v1h-1zM14 21h1v1h-1zM17 21h2v1h-2zM31 21h1v1h-1zM34 21h1v1h-1zM40 21h2v1h-2zM44 21h1v1h-1zM16 22h1v1h-1zM24 22h2v1h-2zM30 22h1v1h-1zM32 22h3v1h-3zM36 22h1v1h-1zM42 22h1v1h-1zM15 23h1v1h-1zM17 23h1v1h-1zM19 23h1v1h-1zM22 23h2v1h-2zM25 23h1v1h-1zM27 23h2v1h-2zM33 23h3v1h-3zM37 23h1v1h-1zM39 23h1v1h-1zM11 24h1v1h-1zM13 24h1v1h-1zM20 24h8v1h-8zM32 24h1v1h-1zM36 24h2v1h-2zM41 24h1v1h-1zM12 25h2v1h-2zM16 25h1v1h-1zM18 25h1v1h-1zM20 25h9v1h-9zM30 25h1v1h-1zM32 25h1v1h-1zM35 25h1v1h-1zM38 25h1v1h-1zM41 25h1v1h-1zM18 26h3v1h-3zM22 26h1v1h-1zM24 26h5v1h-5zM40 26h1v1h-1zM16 27h1v1h-1zM19 27h12v1h-12zM35 27h3v1h-3zM44 27h1v1h-1zM9 28h1v1h-1zM18 28h3v1h-3zM22 28h9v1h-9zM33 28h4v1h-4zM43 28h1v1h-1zM45 28h1v1h-1zM18 29h3v1h-3zM22 29h8v1h-8zM31 29h1v1h-1zM39 29h1v1h-1zM41 29h1v1h-1zM43 29h1v1h-1zM10 30h1v1h-1zM14 30h1v1h-1zM17 30h1v1h-1zM19 30h11v1h-11zM36 30h1v1h-1zM46 30h1v1h-1zM7 31h1v1h-1zM18 31h12v1h-12zM34 31h1v1h-1zM38 31h1v1h-1zM41 31h1v1h-1zM11 32h1v1h-1zM13 32h1v1h-1zM19 32h2v1h-2zM22 32h8v1h-8zM31 32h2v1h-2zM35 32h1v1h-1zM41 32h1v1h-1zM43 32h1v1h-1zM5 33h1v1h-1zM14 33h1v1h-1zM17 33h2v1h-2zM20 33h9v1h-9zM32 33h1v1h-1zM35 33h1v1h-1zM41 33h2v1h-2zM44 33h1v1h-1zM46 33h1v1h-1zM18 34h1v1h-1zM20 34h1v1h-1zM22 34h6v1h-6zM35 34h2v1h-2zM13 35h2v1h-2zM17 35h3v1h-3zM25 35h1v1h-1zM33 35h1v1h-1zM15 36h1v1h-1zM21 36h2v1h-2zM24 36h1v1h-1zM27 36h1v1h-1zM31 36h2v1h-2zM48 36h1v1h-1zM23 37h2v1h-2zM28 37h1v1h-1zM30 37h1v1h-1zM12 38h2v1h-2zM20 38h1v1h-1zM27 38h1v1h-1zM33 38h1v1h-1zM41 38h1v1h-1zM17 39h1v1h-1zM28 39h1v1h-1zM34 39h1v1h-1zM41 39h1v1h-1zM13 40h1v1h-1zM25 40h1v1h-1zM31 40h1v1h-1zM35 40h1v1h-1zM17 41h1v1h-1zM28 41h1v1h-1zM21 42h1v1h-1zM23 42h2v1h-2zM22 43h1v1h-1zM34 43h1v1h-1zM39 43h1v1h-1zM43 43h1v1h-1zM22 44h3v1h-3zM26 44h1v1h-1zM19 46h1v1h-1zM25 46h1v1h-1z"/>
<path fill="#484bef" d="M25 13h1v1h-1zM18 15h1v1h-1zM34 15h1v1h-1zM17 17h1v1h-1zM34 17h1v1h-1zM19 18h1v1h-1zM25 18h1v1h-1zM41 21h1v1h-1zM25 22h1v1h-1zM22 23h1v1h-1zM39 23h1v1h-1zM21 24h7v1h-7zM18 25h1v1h-1zM21 25h3v1h-3zM25 25h1v1h-1zM27 25h2v1h-2zM41 25h1v1h-1zM18 26h3v1h-3zM22 26h1v1h-1zM24 26h2v1h-2zM27 26h2v1h-2zM19 27h3v1h-3zM23 27h8v1h-8zM18 28h3v1h-3zM22 28h3v1h-3zM26 28h4v1h-4zM18 29h3v1h-3zM22 29h8v1h-8zM43 29h1v1h-1zM19 30h1v1h-1zM21 30h9v1h-9zM36 30h1v1h-1zM19 31h6v1h-6zM26 31h4v1h-4zM19 32h2v1h-2zM22 32h8v1h-8zM21 33h8v1h-8zM20 34h1v1h-1zM22 34h6v1h-6zM35 34h1v1h-1zM24 36h1v1h-1zM25 40h1v1h-1zM26 44h1v1h-1z"/>
<path fill="#426afe" d="M22 23h1v1h-1zM21 24h5v1h-5zM27 24h1v1h-1zM21 25h1v1h-1zM25 25h1v1h-1zM27 25h2v1h-2zM24 26h1v1h-1zM27 26h2v1h-2zM20 27h2v1h-2zM24 27h6v1h-6zM19 28h2v1h-2zM22 28h1v1h-1zM26 28h4v1h-4zM18 29h2v1h-2zM22 29h3v1h-3zM26 29h4v1h-4zM19 30h1v1h-1zM22 30h3v1h-3zM26 30h4v1h-4zM20 31h5v1h-5zM26 31h4v1h-4zM19 32h1v1h-1zM22 32h2v1h-2zM26 32h4v1h-4zM21 33h2v1h-2zM24 33h4v1h-4zM22 34h2v1h-2zM26 34h2v1h-2z"/>
<path fill="#2d8df2" d="M22 24h3v1h-3zM27 24h1v1h-1zM21 25h1v1h-1zM25 25h1v1h-1zM27 25h2v1h-2zM24 26h1v1h-1zM27 26h2v1h-2zM20 27h2v1h-2zM24 27h6v1h-6zM26 28h4v1h-4zM18 29h1v1h-1zM22 29h2v1h-2zM26 29h4v1h-4zM19 30h1v1h-1zM23 30h1v1h-1zM26 30h4v1h-4zM20 31h5v1h-5zM27 31h3v1h-3zM19 32h1v1h-1zM22 32h2v1h-2zM26 32h4v1h-4zM21 33h2v1h-2zM25 33h2v1h-2zM23 34h1v1h-1zM26 34h2v1h-2z"/>
<path fill="#1aabdd" d="M24 24h1v1h-1zM27 24h1v1h-1zM21 25h1v1h-1zM25 25h1v1h-1zM24 26h1v1h-1zM27 26h2v1h-2zM24 27h1v1h-1zM26 27h1v1h-1zM28 27h2v1h-2zM27 28h3v1h-3zM18 29h1v1h-1zM22 29h2v1h-2zM26 29h4v1h-4zM23 30h1v1h-1zM27 30h3v1h-3zM22 31h1v1h-1zM24 31h1v1h-1zM19 32h1v1h-1zM22 32h1v1h-1zM29 32h1v1h-1zM21 33h2v1h-2zM27 34h1v1h-1z"/>
<path fill="#1dc0b3" d="M24 24h1v1h-1zM27 24h1v1h-1zM21 25h1v1h-1zM25 25h1v1h-1zM28 27h2v1h-2zM27 28h2v1h-2zM22 29h2v1h-2zM26 29h1v1h-1zM28 29h2v1h-2zM23 30h1v1h-1zM27 30h3v1h-3zM22 31h1v1h-1zM24 31h1v1h-1zM19 32h1v1h-1zM29 32h1v1h-1zM22 33h1v1h-1z"/>
<path fill="#5ecc74" d="M25 25h1v1h-1zM27 28h2v1h-2zM28 29h2v1h-2zM27 30h2v1h-2zM22 31h1v1h-1zM29 32h1v1h-1zM22 33h1v1h-1z"/>
<path fill="#c6c22a" d="M27 28h2v1h-2zM28 29h2v1h-2zM27 30h1v1h-1z"/>
<path fill="#fec835" d="M27 28h2v1h-2zM28 29h2v1h-2zM27 30h1v1h-1z"/>
<path fill="#f9fa16" d="M27 28h1v1h-1zM28 29h2v1h-2z"/>
<path fill="#f9fb15" d="M27 28h1v1h-1z"/>
</g>
<rect x="1851.4" y="1149.3" width="47.5" height="6.6" fill="#ffff00"/>
<path d="M1612.8 901.3V883H1631.1M1702.1 883H1720.4V901.3M1720.4 972.3V990.6H1702.1M1631.1 990.6H1612.8V972.3M1654.6 883H1678.6M1654.6 990.6H1678.6M1612.8 924.8V948.8M1720.4 924.8V948.8" fill="none" stroke="#ff5000" stroke-width="4.1" stroke-linejoin="miter"/>
<path d="M1720.4 883L1797.17 740.37" stroke="#ff5000" stroke-width="3.8" fill="none"/><path d="M1807.6 721L1805 750.83L1797.17 740.37L1784.13 739.6z" fill="#ff5000"/>
<path d="M1720.4 990.6L1791.37 925.65" stroke="#ff5000" stroke-width="3.8" fill="none"/><path d="M1807.6 910.8L1795.31 938.11L1791.37 925.65L1779.31 920.62z" fill="#ff5000"/>
<rect x="1808.3" y="721.8" width="189.1" height="188.2" fill="#3e26a8" stroke="#ff5000" stroke-width="3.8"/>
<g transform="translate(1846,756)">
<path fill="#484ef1" d="M99 9h1v1h-1zM80 10h1v1h-1zM91 11h1v1h-1zM57 16h1v1h-1zM72 16h1v1h-1zM82 18h1v1h-1zM36 20h1v1h-1zM53 21h1v1h-1zM78 21h1v1h-1zM92 21h1v1h-1zM94 21h1v1h-1zM56 23h1v1h-1zM87 23h1v1h-1zM29 24h1v1h-1zM52 24h1v1h-1zM68 26h1v1h-1zM89 26h1v1h-1zM93 26h1v1h-1zM95 27h1v1h-1zM44 28h1v1h-1zM40 30h1v1h-1zM93 31h1v1h-1zM57 32h1v1h-1zM68 34h1v1h-1zM76 34h1v1h-1zM71 35h2v1h-2zM88 35h1v1h-1zM49 36h1v1h-1zM83 36h1v1h-1zM45 37h1v1h-1zM60 37h1v1h-1zM63 37h1v1h-1zM84 37h1v1h-1zM21 38h1v1h-1zM27 38h1v1h-1zM26 39h1v1h-1zM90 39h2v1h-2zM56 40h1v1h-1zM74 40h1v1h-1zM82 40h1v1h-1zM28 41h1v1h-1zM64 41h1v1h-1zM69 41h1v1h-1zM87 41h1v1h-1zM42 42h1v1h-1zM49 42h1v1h-1zM58 42h1v1h-1zM68 42h1v1h-1zM49 43h1v1h-1zM62 44h1v1h-1zM97 44h1v1h-1zM41 45h1v1h-1zM47 45h1v1h-1zM52 45h1v1h-1zM66 45h1v1h-1zM72 45h1v1h-1zM40 46h1v1h-1zM44 46h1v1h-1zM64 46h1v1h-1zM27 47h1v1h-1zM58 47h1v1h-1zM61 47h1v1h-1zM63 47h1v1h-1zM71 47h1v1h-1zM23 48h1v1h-1zM74 48h1v1h-1zM50 49h1v1h-1zM56 49h1v1h-1zM73 49h1v1h-1zM75 49h1v1h-1zM86 49h1v1h-1zM114 49h1v1h-1zM23 50h1v1h-1zM36 50h1v1h-1zM47 50h1v1h-1zM51 50h2v1h-2zM91 50h1v1h-1zM111 50h1v1h-1zM14 51h1v1h-1zM23 51h1v1h-1zM45 51h8v1h-8zM55 51h1v1h-1zM43 52h4v1h-4zM48 52h1v1h-1zM51 52h4v1h-4zM56 52h2v1h-2zM59 52h1v1h-1zM42 53h1v1h-1zM44 53h3v1h-3zM49 53h6v1h-6zM56 53h2v1h-2zM59 53h1v1h-1zM64 53h1v1h-1zM70 53h1v1h-1zM72 53h1v1h-1zM20 54h1v1h-1zM27 54h1v1h-1zM42 54h4v1h-4zM48 54h1v1h-1zM50 54h1v1h-1zM52 54h6v1h-6zM59 54h2v1h-2zM45 55h1v1h-1zM48 55h1v1h-1zM50 55h1v1h-1zM52 55h6v1h-6zM61 55h1v1h-1zM82 55h1v1h-1zM89 55h1v1h-1zM91 55h1v1h-1zM114 55h1v1h-1zM40 56h1v1h-1zM43 56h3v1h-3zM48 56h1v1h-1zM50 56h8v1h-8zM59 56h4v1h-4zM82 56h1v1h-1zM95 56h1v1h-1zM97 56h1v1h-1zM31 57h1v1h-1zM38 57h3v1h-3zM42 57h2v1h-2zM45 57h1v1h-1zM48 57h1v1h-1zM51 57h1v1h-1zM54 57h5v1h-5zM60 57h1v1h-1zM65 57h1v1h-1zM69 57h1v1h-1zM99 57h1v1h-1zM38 58h2v1h-2zM41 58h1v1h-1zM46 58h4v1h-4zM51 58h3v1h-3zM55 58h4v1h-4zM60 58h1v1h-1zM62 58h2v1h-2zM72 58h1v1h-1zM87 58h1v1h-1zM37 59h7v1h-7zM45 59h4v1h-4zM50 59h7v1h-7zM58 59h3v1h-3zM62 59h2v1h-2zM87 59h1v1h-1zM42 60h1v1h-1zM45 60h1v1h-1zM48 60h1v1h-1zM50 60h1v1h-1zM52 60h3v1h-3zM56 60h7v1h-7zM64 60h1v1h-1zM78 60h1v1h-1zM91 60h1v1h-1zM37 61h1v1h-1zM39 61h1v1h-1zM42 61h1v1h-1zM44 61h2v1h-2zM47 61h4v1h-4zM52 61h2v1h-2zM55 61h1v1h-1zM57 61h3v1h-3zM61 61h4v1h-4zM89 61h1v1h-1zM106 61h1v1h-1zM33 62h1v1h-1zM36 62h3v1h-3zM40 62h1v1h-1zM44 62h4v1h-4zM49 62h3v1h-3zM56 62h5v1h-5zM62 62h5v1h-5zM81 62h1v1h-1zM92 62h1v1h-1zM22 63h1v1h-1zM38 63h1v1h-1zM40 63h2v1h-2zM43 63h5v1h-5zM50 63h2v1h-2zM54 63h1v1h-1zM56 63h8v1h-8zM98 63h1v1h-1zM110 63h1v1h-1zM41 64h1v1h-1zM45 64h2v1h-2zM48 64h3v1h-3zM52 64h2v1h-2zM55 64h9v1h-9zM87 64h1v1h-1zM91 64h1v1h-1zM116 64h1v1h-1zM31 65h1v1h-1zM37 65h1v1h-1zM39 65h7v1h-7zM48 65h3v1h-3zM52 65h1v1h-1zM54 65h3v1h-3zM58 65h4v1h-4zM70 65h1v1h-1zM86 65h1v1h-1zM115 65h1v1h-1zM32 66h1v1h-1zM35 66h1v1h-1zM37 66h1v1h-1zM41 66h2v1h-2zM44 66h1v1h-1zM46 66h2v1h-2zM49 66h1v1h-1zM52 66h3v1h-3zM56 66h9v1h-9zM74 66h1v1h-1zM85 66h1v1h-1zM38 67h4v1h-4zM43 67h1v1h-1zM45 67h1v1h-1zM47 67h1v1h-1zM50 67h1v1h-1zM52 67h7v1h-7zM60 67h5v1h-5zM79 67h1v1h-1zM87 67h1v1h-1zM117 67h1v1h-1zM20 68h1v1h-1zM30 68h1v1h-1zM38 68h1v1h-1zM42 68h5v1h-5zM48 68h6v1h-6zM55 68h2v1h-2zM58 68h1v1h-1zM60 68h5v1h-5zM37 69h2v1h-2zM41 69h2v1h-2zM44 69h1v1h-1zM46 69h1v1h-1zM48 69h1v1h-1zM51 69h3v1h-3zM56 69h9v1h-9zM106 69h1v1h-1zM112 69h1v1h-1zM36 70h2v1h-2zM41 70h2v1h-2zM46 70h2v1h-2zM49 70h7v1h-7zM57 70h7v1h-7zM82 70h1v1h-1zM89 70h1v1h-1zM38 71h1v1h-1zM40 71h1v1h-1zM43 71h1v1h-1zM46 71h1v1h-1zM49 71h1v1h-1zM51 71h1v1h-1zM54 71h3v1h-3zM58 71h1v1h-1zM60 71h1v1h-1zM62 71h2v1h-2zM83 71h1v1h-1zM97 71h1v1h-1zM37 72h1v1h-1zM41 72h1v1h-1zM46 72h2v1h-2zM49 72h3v1h-3zM53 72h1v1h-1zM55 72h2v1h-2zM59 72h1v1h-1zM61 72h2v1h-2zM82 72h1v1h-1zM42 73h1v1h-1zM45 73h4v1h-4zM52 73h2v1h-2zM55 73h2v1h-2zM58 73h5v1h-5zM80 73h1v1h-1zM39 74h1v1h-1zM42 74h2v1h-2zM45 74h1v1h-1zM48 74h2v1h-2zM51 74h1v1h-1zM53 74h3v1h-3zM57 74h1v1h-1zM60 74h2v1h-2zM67 74h1v1h-1zM93 74h1v1h-1zM39 75h1v1h-1zM41 75h2v1h-2zM44 75h4v1h-4zM49 75h8v1h-8zM58 75h3v1h-3zM87 75h1v1h-1zM92 75h1v1h-1zM40 76h3v1h-3zM44 76h4v1h-4zM49 76h2v1h-2zM52 76h6v1h-6zM59 76h1v1h-1zM117 76h1v1h-1zM38 77h1v1h-1zM44 77h2v1h-2zM47 77h6v1h-6zM56 77h1v1h-1zM58 77h1v1h-1zM78 77h1v1h-1zM43 78h1v1h-1zM45 78h3v1h-3zM50 78h2v1h-2zM53 78h2v1h-2zM56 78h1v1h-1zM80 78h1v1h-1zM100 78h1v1h-1zM46 79h6v1h-6zM53 79h2v1h-2zM90 79h1v1h-1zM94 79h1v1h-1zM11 80h1v1h-1zM25 80h1v1h-1zM33 80h1v1h-1zM66 80h1v1h-1zM70 80h1v1h-1zM15 81h1v1h-1zM26 81h1v1h-1zM62 81h1v1h-1zM102 81h1v1h-1zM108 81h1v1h-1zM33 82h2v1h-2zM49 82h1v1h-1zM70 82h1v1h-1zM64 83h1v1h-1zM90 83h1v1h-1zM95 83h2v1h-2zM72 84h1v1h-1zM95 84h1v1h-1zM37 85h1v1h-1zM68 85h1v1h-1zM84 85h1v1h-1zM72 86h1v1h-1zM90 86h2v1h-2zM33 87h1v1h-1zM58 87h1v1h-1zM93 87h2v1h-2zM20 88h1v1h-1zM36 88h1v1h-1zM66 88h1v1h-1zM81 88h1v1h-1zM88 88h1v1h-1zM116 88h1v1h-1zM53 89h1v1h-1zM83 89h1v1h-1zM56 90h1v1h-1zM30 91h1v1h-1zM62 91h1v1h-1zM64 91h1v1h-1zM86 91h1v1h-1zM103 91h2v1h-2zM35 92h1v1h-1zM73 92h1v1h-1zM46 93h1v1h-1zM53 93h1v1h-1zM59 94h1v1h-1zM81 94h1v1h-1zM6 95h1v1h-1zM50 95h1v1h-1zM86 95h1v1h-1zM59 96h1v1h-1zM79 96h1v1h-1zM55 97h1v1h-1zM73 97h1v1h-1zM19 98h1v1h-1zM31 98h1v1h-1zM52 99h1v1h-1zM68 99h1v1h-1zM71 101h1v1h-1zM89 101h1v1h-1zM92 101h1v1h-1zM82 102h1v1h-1zM85 102h1v1h-1zM81 103h1v1h-1zM55 104h1v1h-1zM85 104h1v1h-1zM87 106h1v1h-1zM55 107h1v1h-1zM96 108h1v1h-1zM50 110h1v1h-1z"/>
<path fill="#2d8cf3" d="M87 41h1v1h-1zM66 45h1v1h-1zM51 50h2v1h-2zM45 51h4v1h-4zM50 51h2v1h-2zM55 51h1v1h-1zM44 52h1v1h-1zM42 53h1v1h-1zM46 53h1v1h-1zM49 53h6v1h-6zM56 53h2v1h-2zM42 54h1v1h-1zM44 54h1v1h-1zM48 54h1v1h-1zM52 54h1v1h-1zM56 54h2v1h-2zM60 54h1v1h-1zM52 55h2v1h-2zM61 55h1v1h-1zM44 56h1v1h-1zM50 56h2v1h-2zM53 56h1v1h-1zM55 56h1v1h-1zM59 56h1v1h-1zM62 56h1v1h-1zM39 57h1v1h-1zM54 57h1v1h-1zM60 57h1v1h-1zM48 58h1v1h-1zM53 58h1v1h-1zM57 58h2v1h-2zM60 58h1v1h-1zM62 58h2v1h-2zM43 59h1v1h-1zM50 59h1v1h-1zM59 59h2v1h-2zM62 59h1v1h-1zM45 60h1v1h-1zM48 60h1v1h-1zM56 60h1v1h-1zM59 60h4v1h-4zM48 61h1v1h-1zM52 61h2v1h-2zM57 61h3v1h-3zM61 61h4v1h-4zM44 62h1v1h-1zM49 62h1v1h-1zM56 62h5v1h-5zM63 62h1v1h-1zM41 63h1v1h-1zM43 63h1v1h-1zM47 63h1v1h-1zM50 63h2v1h-2zM56 63h8v1h-8zM46 64h1v1h-1zM48 64h1v1h-1zM52 64h1v1h-1zM56 64h8v1h-8zM37 65h1v1h-1zM42 65h1v1h-1zM45 65h1v1h-1zM50 65h1v1h-1zM52 65h1v1h-1zM54 65h3v1h-3zM60 65h2v1h-2zM35 66h1v1h-1zM44 66h1v1h-1zM56 66h9v1h-9zM43 67h1v1h-1zM45 67h1v1h-1zM53 67h1v1h-1zM57 67h1v1h-1zM61 67h1v1h-1zM64 67h1v1h-1zM42 68h1v1h-1zM44 68h1v1h-1zM46 68h1v1h-1zM50 68h1v1h-1zM52 68h1v1h-1zM58 68h1v1h-1zM60 68h1v1h-1zM64 68h1v1h-1zM37 69h2v1h-2zM44 69h1v1h-1zM48 69h1v1h-1zM52 69h2v1h-2zM56 69h2v1h-2zM60 69h5v1h-5zM37 70h1v1h-1zM42 70h1v1h-1zM51 70h1v1h-1zM53 70h1v1h-1zM55 70h1v1h-1zM57 70h1v1h-1zM59 70h1v1h-1zM61 70h1v1h-1zM40 71h1v1h-1zM43 71h1v1h-1zM54 71h1v1h-1zM62 71h2v1h-2zM37 72h1v1h-1zM41 72h1v1h-1zM49 72h1v1h-1zM61 72h1v1h-1zM48 73h1v1h-1zM53 73h1v1h-1zM55 73h2v1h-2zM58 73h1v1h-1zM60 73h2v1h-2zM51 74h1v1h-1zM54 74h1v1h-1zM57 74h1v1h-1zM45 75h3v1h-3zM54 75h1v1h-1zM58 75h1v1h-1zM42 76h1v1h-1zM45 76h1v1h-1zM49 76h2v1h-2zM54 76h2v1h-2zM59 76h1v1h-1zM44 77h1v1h-1zM47 77h2v1h-2zM51 77h1v1h-1zM78 77h1v1h-1zM45 78h2v1h-2zM56 78h1v1h-1zM48 79h1v1h-1zM50 79h2v1h-2zM53 79h1v1h-1zM62 81h1v1h-1z"/>
<path fill="#12beb9" d="M47 51h2v1h-2zM50 51h1v1h-1zM53 53h1v1h-1zM56 53h1v1h-1zM48 54h1v1h-1zM57 54h1v1h-1zM60 54h1v1h-1zM61 55h1v1h-1zM59 56h1v1h-1zM53 58h1v1h-1zM60 58h1v1h-1zM62 58h1v1h-1zM60 59h1v1h-1zM61 60h1v1h-1zM48 61h1v1h-1zM57 61h1v1h-1zM59 61h1v1h-1zM61 61h1v1h-1zM56 62h5v1h-5zM56 63h6v1h-6zM56 64h1v1h-1zM59 64h3v1h-3zM63 64h1v1h-1zM37 65h1v1h-1zM55 65h1v1h-1zM59 66h3v1h-3zM64 66h1v1h-1zM53 67h1v1h-1zM57 67h1v1h-1zM64 67h1v1h-1zM46 68h1v1h-1zM50 68h1v1h-1zM58 68h1v1h-1zM64 68h1v1h-1zM48 69h1v1h-1zM57 69h1v1h-1zM42 70h1v1h-1zM53 70h1v1h-1zM59 70h1v1h-1zM62 71h2v1h-2zM49 72h1v1h-1zM58 73h1v1h-1zM61 73h1v1h-1zM57 74h1v1h-1zM46 75h2v1h-2zM50 76h1v1h-1zM59 76h1v1h-1zM44 77h1v1h-1zM51 77h1v1h-1zM45 78h1v1h-1zM50 79h1v1h-1z"/>
<path fill="#9fc942" d="M53 53h1v1h-1zM60 58h1v1h-1zM48 61h1v1h-1zM61 61h1v1h-1zM56 62h5v1h-5zM57 63h3v1h-3zM61 63h1v1h-1zM59 64h2v1h-2zM59 66h2v1h-2zM53 67h1v1h-1zM57 67h1v1h-1zM50 68h1v1h-1zM57 69h1v1h-1zM59 76h1v1h-1zM51 77h1v1h-1zM45 78h1v1h-1zM50 79h1v1h-1z"/>
<path fill="#fec437" d="M53 53h1v1h-1zM61 61h1v1h-1zM58 62h1v1h-1zM60 62h1v1h-1zM59 63h1v1h-1zM61 63h1v1h-1zM59 66h1v1h-1zM53 67h1v1h-1zM57 67h1v1h-1zM59 76h1v1h-1zM51 77h1v1h-1zM50 79h1v1h-1z"/>
<path fill="#f9fb15" d="M58 62h1v1h-1zM59 63h1v1h-1zM59 76h1v1h-1zM51 77h1v1h-1z"/>
</g>
<rect x="1958.7" y="893.8" width="32.1" height="6.2" fill="#00ff40"/>
</g>
</svg>
</body></html>
